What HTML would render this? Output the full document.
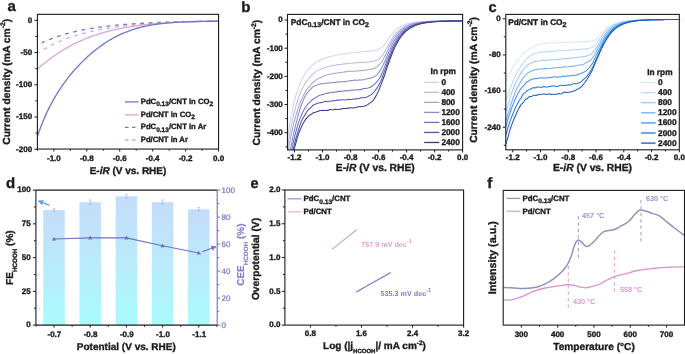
<!DOCTYPE html>
<html><head><meta charset="utf-8"><style>
html,body{margin:0;padding:0;background:#fff;}
svg{display:block;filter:blur(0.3px);text-rendering:geometricPrecision;}
text{stroke:currentColor;stroke-width:0.35px;}
text.an{stroke:none;}
</style></head><body>
<svg width="685" height="354" viewBox="0 0 685 354" font-family='"Liberation Sans", sans-serif'>
<rect width="685" height="354" fill="#fff"/>
<g fill="none" stroke-linecap="butt">
<path d="M38.6,52.66C38.93,52.45 39.93,51.8 40.6,51.38C41.27,50.96 41.93,50.55 42.6,50.15C43.27,49.75 43.93,49.35 44.6,48.97C45.27,48.58 45.93,48.2 46.6,47.83C47.27,47.46 47.93,47.09 48.6,46.74C49.27,46.38 49.93,46.03 50.6,45.69C51.27,45.34 51.93,45.01 52.6,44.68C53.27,44.35 53.93,44.03 54.6,43.71C55.27,43.39 55.93,43.08 56.6,42.78C57.27,42.47 57.93,42.17 58.6,41.88C59.27,41.59 59.93,41.3 60.6,41.02C61.27,40.74 61.93,40.47 62.6,40.2C63.27,39.93 63.93,39.66 64.6,39.4C65.27,39.15 65.93,38.89 66.6,38.64C67.27,38.39 67.93,38.15 68.6,37.91C69.27,37.67 69.93,37.44 70.6,37.21C71.27,36.98 71.93,36.75 72.6,36.53C73.27,36.31 73.93,36.1 74.6,35.89C75.27,35.67 75.93,35.47 76.6,35.26C77.27,35.06 77.93,34.86 78.6,34.67C79.27,34.47 79.93,34.28 80.6,34.09C81.27,33.9 81.93,33.72 82.6,33.54C83.27,33.36 83.93,33.18 84.6,33.01C85.27,32.84 85.93,32.67 86.6,32.5C87.27,32.34 87.93,32.18 88.6,32.02C89.27,31.86 89.93,31.7 90.6,31.55C91.27,31.4 91.93,31.25 92.6,31.1C93.27,30.95 93.93,30.81 94.6,30.67C95.27,30.53 95.93,30.39 96.6,30.25C97.27,30.12 97.93,29.99 98.6,29.86C99.27,29.73 99.93,29.6 100.6,29.47C101.27,29.35 101.93,29.23 102.6,29.11C103.27,28.99 103.93,28.87 104.6,28.76C105.27,28.64 105.93,28.53 106.6,28.42C107.27,28.31 107.93,28.2 108.6,28.1C109.27,27.99 109.93,27.89 110.6,27.79C111.27,27.68 111.93,27.59 112.6,27.49C113.27,27.39 113.93,27.3 114.6,27.2C115.27,27.11 115.93,27.02 116.6,26.93C117.27,26.84 117.93,26.75 118.6,26.66C119.27,26.58 119.93,26.49 120.6,26.41C121.27,26.33 121.93,26.25 122.6,26.17C123.27,26.09 123.93,26.01 124.6,25.94C125.27,25.86 125.93,25.79 126.6,25.72C127.27,25.64 127.93,25.57 128.6,25.5C129.27,25.43 129.93,25.36 130.6,25.3C131.27,25.23 131.93,25.16 132.6,25.1C133.27,25.04 133.93,24.97 134.6,24.91C135.27,24.85 135.93,24.79 136.6,24.73C137.27,24.67 137.93,24.61 138.6,24.56C139.27,24.5 139.93,24.44 140.6,24.39C141.27,24.34 141.93,24.28 142.6,24.23C143.27,24.18 143.93,24.13 144.6,24.08C145.27,24.03 145.93,23.98 146.6,23.93C147.27,23.88 147.93,23.84 148.6,23.79C149.27,23.75 149.93,23.7 150.6,23.66C151.27,23.61 151.93,23.57 152.6,23.53C153.27,23.48 153.93,23.44 154.6,23.4C155.27,23.36 155.93,23.32 156.6,23.28C157.27,23.25 157.93,23.21 158.6,23.17C159.27,23.13 159.93,23.1 160.6,23.06C161.27,23.03 161.93,22.99 162.6,22.96C163.27,22.92 163.93,22.89 164.6,22.86C165.27,22.82 165.93,22.79 166.6,22.76C167.27,22.73 167.93,22.7 168.6,22.67C169.27,22.64 169.93,22.61 170.6,22.58C171.27,22.55 171.93,22.52 172.6,22.5C173.27,22.47 173.93,22.44 174.6,22.41C175.27,22.39 175.93,22.36 176.6,22.34C177.27,22.31 177.93,22.29 178.6,22.26C179.27,22.24 179.93,22.21 180.6,22.19C181.27,22.17 181.93,22.15 182.6,22.12C183.27,22.1 183.93,22.08 184.6,22.06C185.27,22.04 185.93,22.02 186.6,22C187.27,21.97 187.93,21.95 188.6,21.94C189.27,21.92 189.93,21.9 190.6,21.88C191.27,21.86 191.93,21.84 192.6,21.82C193.27,21.8 193.93,21.79 194.6,21.77C195.27,21.75 195.93,21.74 196.6,21.72C197.27,21.7 197.93,21.69 198.6,21.67C199.27,21.66 199.93,21.64 200.6,21.62C201.27,21.61 201.93,21.59 202.6,21.58C203.27,21.57 203.93,21.55 204.6,21.54C205.27,21.52 205.93,21.51 206.6,21.5C207.27,21.48 207.93,21.47 208.6,21.46C209.27,21.45 209.93,21.43 210.6,21.42C211.27,21.41 211.93,21.4 212.6,21.39C213.27,21.37 213.93,21.36 214.6,21.35C215.27,21.34 215.93,21.33 216.6,21.32C217.27,21.31 218.27,21.29 218.6,21.29" stroke="#e0a2d2" stroke-width="1.3" stroke-dasharray="3.6 4.75" stroke-dashoffset="2.3"/>
<path d="M41.8,42.89C42.13,42.74 43.14,42.26 43.81,41.96C44.48,41.65 45.15,41.35 45.82,41.06C46.49,40.77 47.16,40.48 47.83,40.2C48.5,39.92 49.17,39.65 49.84,39.38C50.51,39.11 51.18,38.85 51.85,38.59C52.52,38.34 53.18,38.08 53.85,37.84C54.52,37.59 55.19,37.35 55.86,37.12C56.53,36.88 57.2,36.65 57.87,36.42C58.54,36.2 59.21,35.98 59.88,35.76C60.55,35.55 61.22,35.33 61.89,35.13C62.56,34.92 63.23,34.72 63.9,34.52C64.57,34.32 65.24,34.13 65.91,33.94C66.58,33.75 67.25,33.56 67.92,33.38C68.59,33.2 69.26,33.02 69.93,32.85C70.6,32.67 71.27,32.5 71.94,32.34C72.61,32.17 73.28,32.01 73.95,31.85C74.62,31.69 75.28,31.53 75.95,31.38C76.62,31.22 77.29,31.07 77.96,30.93C78.63,30.78 79.3,30.64 79.97,30.5C80.64,30.36 81.31,30.22 81.98,30.08C82.65,29.95 83.32,29.82 83.99,29.69C84.66,29.56 85.33,29.43 86,29.31C86.67,29.19 87.34,29.07 88.01,28.95C88.68,28.83 89.35,28.71 90.02,28.6C90.69,28.49 91.36,28.38 92.03,28.27C92.7,28.16 93.37,28.05 94.04,27.95C94.71,27.84 95.38,27.74 96.05,27.64C96.72,27.54 97.38,27.45 98.05,27.35C98.72,27.26 99.39,27.16 100.06,27.07C100.73,26.98 101.4,26.89 102.07,26.8C102.74,26.71 103.41,26.63 104.08,26.54C104.75,26.46 105.42,26.38 106.09,26.3C106.76,26.22 107.43,26.14 108.1,26.06C108.77,25.98 109.44,25.91 110.11,25.83C110.78,25.76 111.45,25.69 112.12,25.62C112.79,25.55 113.46,25.48 114.13,25.41C114.8,25.34 115.47,25.28 116.14,25.21C116.81,25.15 117.48,25.08 118.15,25.02C118.82,24.96 119.48,24.9 120.15,24.84C120.82,24.78 121.49,24.72 122.16,24.66C122.83,24.6 123.5,24.55 124.17,24.49C124.84,24.44 125.51,24.39 126.18,24.33C126.85,24.28 127.52,24.23 128.19,24.18C128.86,24.13 129.53,24.08 130.2,24.03C130.87,23.98 131.54,23.94 132.21,23.89C132.88,23.84 133.55,23.8 134.22,23.75C134.89,23.71 135.56,23.67 136.23,23.62C136.9,23.58 137.57,23.54 138.24,23.5C138.91,23.46 139.58,23.42 140.25,23.38C140.92,23.34 141.58,23.3 142.25,23.27C142.92,23.23 143.59,23.19 144.26,23.16C144.93,23.12 145.6,23.08 146.27,23.05C146.94,23.02 147.61,22.98 148.28,22.95C148.95,22.92 149.62,22.88 150.29,22.85C150.96,22.82 151.63,22.79 152.3,22.76C152.97,22.73 153.64,22.7 154.31,22.67C154.98,22.64 155.65,22.61 156.32,22.59C156.99,22.56 157.66,22.53 158.33,22.5C159,22.48 159.67,22.45 160.34,22.43C161.01,22.4 161.68,22.38 162.35,22.35C163.02,22.33 163.68,22.3 164.35,22.28C165.02,22.26 165.69,22.23 166.36,22.21C167.03,22.19 167.7,22.17 168.37,22.14C169.04,22.12 169.71,22.1 170.38,22.08C171.05,22.06 171.72,22.04 172.39,22.02C173.06,22 173.73,21.98 174.4,21.96C175.07,21.94 175.74,21.93 176.41,21.91C177.08,21.89 177.75,21.87 178.42,21.85C179.09,21.84 179.76,21.82 180.43,21.8C181.1,21.79 181.77,21.77 182.44,21.75C183.11,21.74 183.78,21.72 184.45,21.71C185.12,21.69 185.78,21.68 186.45,21.66C187.12,21.65 187.79,21.63 188.46,21.62C189.13,21.6 189.8,21.59 190.47,21.58C191.14,21.56 191.81,21.55 192.48,21.54C193.15,21.52 193.82,21.51 194.49,21.5C195.16,21.49 195.83,21.47 196.5,21.46C197.17,21.45 197.84,21.44 198.51,21.43C199.18,21.41 199.85,21.4 200.52,21.39C201.19,21.38 201.86,21.37 202.53,21.36C203.2,21.35 203.87,21.34 204.54,21.33C205.21,21.32 205.88,21.31 206.55,21.3C207.22,21.29 207.88,21.28 208.55,21.27C209.22,21.26 209.89,21.25 210.56,21.24C211.23,21.24 211.9,21.23 212.57,21.22C213.24,21.21 213.91,21.2 214.58,21.19C215.25,21.18 215.92,21.18 216.59,21.17C217.26,21.16 218.27,21.15 218.6,21.15" stroke="#7579ca" stroke-width="1.3" stroke-dasharray="3.9 4.55" stroke-dashoffset="0.5"/>
<path d="M37.4,69.21C37.74,68.92 38.74,68.02 39.41,67.43C40.08,66.85 40.76,66.27 41.43,65.7C42.1,65.13 42.77,64.57 43.44,64.02C44.11,63.47 44.78,62.92 45.45,62.39C46.12,61.85 46.8,61.32 47.47,60.8C48.14,60.28 48.81,59.77 49.48,59.26C50.15,58.76 50.82,58.26 51.49,57.77C52.16,57.28 52.84,56.8 53.51,56.33C54.18,55.85 54.85,55.39 55.52,54.93C56.19,54.47 56.86,54.02 57.53,53.57C58.2,53.13 58.88,52.69 59.55,52.26C60.22,51.83 60.89,51.4 61.56,50.99C62.23,50.57 62.9,50.16 63.57,49.76C64.24,49.36 64.92,48.96 65.59,48.57C66.26,48.18 66.93,47.8 67.6,47.42C68.27,47.04 68.94,46.67 69.61,46.31C70.28,45.95 70.96,45.59 71.63,45.24C72.3,44.89 72.97,44.54 73.64,44.2C74.31,43.86 74.98,43.53 75.65,43.2C76.32,42.87 77,42.55 77.67,42.24C78.34,41.92 79.01,41.61 79.68,41.31C80.35,41 81.02,40.7 81.69,40.41C82.36,40.12 83.04,39.83 83.71,39.55C84.38,39.26 85.05,38.99 85.72,38.71C86.39,38.44 87.06,38.18 87.73,37.91C88.4,37.65 89.08,37.39 89.75,37.14C90.42,36.89 91.09,36.64 91.76,36.4C92.43,36.16 93.1,35.92 93.77,35.69C94.44,35.45 95.12,35.22 95.79,35C96.46,34.77 97.13,34.56 97.8,34.34C98.47,34.12 99.14,33.91 99.81,33.71C100.48,33.5 101.16,33.3 101.83,33.1C102.5,32.9 103.17,32.7 103.84,32.51C104.51,32.32 105.18,32.14 105.85,31.95C106.52,31.77 107.2,31.59 107.87,31.41C108.54,31.24 109.21,31.07 109.88,30.9C110.55,30.73 111.22,30.57 111.89,30.4C112.56,30.24 113.24,30.08 113.91,29.93C114.58,29.78 115.25,29.62 115.92,29.48C116.59,29.33 117.26,29.18 117.93,29.04C118.6,28.9 119.28,28.76 119.95,28.63C120.62,28.49 121.29,28.36 121.96,28.23C122.63,28.1 123.3,27.97 123.97,27.85C124.64,27.72 125.32,27.6 125.99,27.48C126.66,27.36 127.33,27.25 128,27.14C128.67,27.02 129.34,26.91 130.01,26.8C130.68,26.7 131.36,26.59 132.03,26.49C132.7,26.38 133.37,26.28 134.04,26.18C134.71,26.08 135.38,25.99 136.05,25.89C136.72,25.8 137.4,25.71 138.07,25.62C138.74,25.53 139.41,25.44 140.08,25.36C140.75,25.27 141.42,25.19 142.09,25.1C142.76,25.02 143.44,24.94 144.11,24.87C144.78,24.79 145.45,24.71 146.12,24.64C146.79,24.56 147.46,24.49 148.13,24.42C148.8,24.35 149.48,24.28 150.15,24.22C150.82,24.15 151.49,24.08 152.16,24.02C152.83,23.96 153.5,23.89 154.17,23.83C154.84,23.77 155.52,23.71 156.19,23.66C156.86,23.6 157.53,23.54 158.2,23.49C158.87,23.43 159.54,23.38 160.21,23.33C160.88,23.27 161.56,23.22 162.23,23.17C162.9,23.12 163.57,23.08 164.24,23.03C164.91,22.98 165.58,22.94 166.25,22.89C166.92,22.85 167.6,22.8 168.27,22.76C168.94,22.72 169.61,22.68 170.28,22.64C170.95,22.6 171.62,22.56 172.29,22.52C172.96,22.48 173.64,22.45 174.31,22.41C174.98,22.38 175.65,22.34 176.32,22.31C176.99,22.27 177.66,22.24 178.33,22.21C179,22.17 179.68,22.14 180.35,22.11C181.02,22.08 181.69,22.05 182.36,22.02C183.03,21.99 183.7,21.97 184.37,21.94C185.04,21.91 185.72,21.89 186.39,21.86C187.06,21.83 187.73,21.81 188.4,21.78C189.07,21.76 189.74,21.74 190.41,21.71C191.08,21.69 191.76,21.67 192.43,21.65C193.1,21.62 193.77,21.6 194.44,21.58C195.11,21.56 195.78,21.54 196.45,21.52C197.12,21.5 197.8,21.48 198.47,21.47C199.14,21.45 199.81,21.43 200.48,21.41C201.15,21.39 201.82,21.38 202.49,21.36C203.16,21.35 203.84,21.33 204.51,21.31C205.18,21.3 205.85,21.28 206.52,21.27C207.19,21.25 207.86,21.24 208.53,21.23C209.2,21.21 209.88,21.2 210.55,21.19C211.22,21.17 211.89,21.16 212.56,21.15C213.23,21.14 213.9,21.13 214.57,21.12C215.24,21.1 215.92,21.09 216.59,21.08C217.26,21.07 218.26,21.06 218.6,21.05" stroke="#e0a2d2" stroke-width="1.3"/>
<path d="M37.4,136.47C37.74,135.51 38.74,132.54 39.41,130.68C40.08,128.81 40.76,127.03 41.43,125.3C42.1,123.57 42.77,121.91 43.44,120.29C44.11,118.68 44.78,117.13 45.45,115.62C46.12,114.11 46.8,112.66 47.47,111.24C48.14,109.82 48.81,108.46 49.48,107.13C50.15,105.79 50.82,104.51 51.49,103.25C52.16,101.99 52.84,100.77 53.51,99.58C54.18,98.39 54.85,97.24 55.52,96.11C56.19,94.98 56.86,93.88 57.53,92.81C58.2,91.74 58.88,90.69 59.55,89.67C60.22,88.64 60.89,87.64 61.56,86.67C62.23,85.69 62.9,84.73 63.57,83.79C64.24,82.86 64.92,81.94 65.59,81.04C66.26,80.14 66.93,79.26 67.6,78.4C68.27,77.53 68.94,76.69 69.61,75.86C70.28,75.02 70.96,74.21 71.63,73.41C72.3,72.61 72.97,71.82 73.64,71.05C74.31,70.27 74.98,69.51 75.65,68.77C76.32,68.02 77,67.29 77.67,66.57C78.34,65.84 79.01,65.14 79.68,64.44C80.35,63.74 81.02,63.06 81.69,62.38C82.36,61.71 83.04,61.04 83.71,60.39C84.38,59.74 85.05,59.1 85.72,58.47C86.39,57.84 87.06,57.22 87.73,56.61C88.4,56 89.08,55.4 89.75,54.81C90.42,54.22 91.09,53.64 91.76,53.07C92.43,52.5 93.1,51.94 93.77,51.39C94.44,50.84 95.12,50.3 95.79,49.77C96.46,49.24 97.13,48.72 97.8,48.21C98.47,47.69 99.14,47.19 99.81,46.7C100.48,46.21 101.16,45.73 101.83,45.25C102.5,44.78 103.17,44.31 103.84,43.86C104.51,43.4 105.18,42.96 105.85,42.52C106.52,42.08 107.2,41.66 107.87,41.24C108.54,40.82 109.21,40.41 109.88,40.01C110.55,39.61 111.22,39.22 111.89,38.83C112.56,38.45 113.24,38.08 113.91,37.71C114.58,37.35 115.25,36.99 115.92,36.64C116.59,36.29 117.26,35.95 117.93,35.62C118.6,35.29 119.28,34.97 119.95,34.65C120.62,34.34 121.29,34.03 121.96,33.73C122.63,33.44 123.3,33.15 123.97,32.86C124.64,32.58 125.32,32.3 125.99,32.04C126.66,31.77 127.33,31.51 128,31.26C128.67,31.01 129.34,30.76 130.01,30.52C130.68,30.29 131.36,30.05 132.03,29.83C132.7,29.61 133.37,29.39 134.04,29.18C134.71,28.97 135.38,28.77 136.05,28.57C136.72,28.37 137.4,28.18 138.07,28C138.74,27.81 139.41,27.63 140.08,27.46C140.75,27.29 141.42,27.12 142.09,26.96C142.76,26.8 143.44,26.64 144.11,26.49C144.78,26.34 145.45,26.2 146.12,26.06C146.79,25.91 147.46,25.78 148.13,25.65C148.8,25.52 149.48,25.39 150.15,25.27C150.82,25.15 151.49,25.04 152.16,24.92C152.83,24.81 153.5,24.7 154.17,24.6C154.84,24.49 155.52,24.39 156.19,24.3C156.86,24.2 157.53,24.11 158.2,24.02C158.87,23.93 159.54,23.85 160.21,23.76C160.88,23.68 161.56,23.6 162.23,23.53C162.9,23.45 163.57,23.38 164.24,23.31C164.91,23.24 165.58,23.17 166.25,23.11C166.92,23.04 167.6,22.98 168.27,22.92C168.94,22.86 169.61,22.81 170.28,22.75C170.95,22.7 171.62,22.65 172.29,22.6C172.96,22.55 173.64,22.5 174.31,22.45C174.98,22.41 175.65,22.37 176.32,22.32C176.99,22.28 177.66,22.24 178.33,22.2C179,22.17 179.68,22.13 180.35,22.09C181.02,22.06 181.69,22.03 182.36,21.99C183.03,21.96 183.7,21.93 184.37,21.9C185.04,21.87 185.72,21.85 186.39,21.82C187.06,21.79 187.73,21.77 188.4,21.74C189.07,21.72 189.74,21.7 190.41,21.67C191.08,21.65 191.76,21.63 192.43,21.61C193.1,21.59 193.77,21.57 194.44,21.55C195.11,21.54 195.78,21.52 196.45,21.5C197.12,21.49 197.8,21.47 198.47,21.46C199.14,21.44 199.81,21.43 200.48,21.41C201.15,21.4 201.82,21.39 202.49,21.38C203.16,21.36 203.84,21.35 204.51,21.34C205.18,21.33 205.85,21.32 206.52,21.31C207.19,21.3 207.86,21.3 208.53,21.29C209.2,21.28 209.88,21.27 210.55,21.26C211.22,21.26 211.89,21.25 212.56,21.25C213.23,21.24 213.9,21.23 214.57,21.23C215.24,21.22 215.92,21.22 216.59,21.22C217.26,21.21 218.26,21.21 218.6,21.21" stroke="#7579ca" stroke-width="1.35"/>
</g>
<rect x="37.4" y="14.35" width="181.15" height="134.7" fill="none" stroke="#1b1b1b" stroke-width="1.1"/>
<line x1="37.4" y1="20.4" x2="34.4" y2="20.4" stroke="#1b1b1b" stroke-width="1.0" />
<line x1="37.4" y1="52.6" x2="34.4" y2="52.6" stroke="#1b1b1b" stroke-width="1.0" />
<line x1="37.4" y1="84.8" x2="34.4" y2="84.8" stroke="#1b1b1b" stroke-width="1.0" />
<line x1="37.4" y1="117" x2="34.4" y2="117" stroke="#1b1b1b" stroke-width="1.0" />
<line x1="37.4" y1="149.2" x2="34.4" y2="149.2" stroke="#1b1b1b" stroke-width="1.0" />
<line x1="37.4" y1="36.5" x2="35.4" y2="36.5" stroke="#1b1b1b" stroke-width="1.0" />
<line x1="37.4" y1="68.7" x2="35.4" y2="68.7" stroke="#1b1b1b" stroke-width="1.0" />
<line x1="37.4" y1="100.9" x2="35.4" y2="100.9" stroke="#1b1b1b" stroke-width="1.0" />
<line x1="37.4" y1="133.1" x2="35.4" y2="133.1" stroke="#1b1b1b" stroke-width="1.0" />
<line x1="53.87" y1="149.05" x2="53.87" y2="151.55" stroke="#1b1b1b" stroke-width="1.0" />
<line x1="86.8" y1="149.05" x2="86.8" y2="151.55" stroke="#1b1b1b" stroke-width="1.0" />
<line x1="119.74" y1="149.05" x2="119.74" y2="151.55" stroke="#1b1b1b" stroke-width="1.0" />
<line x1="152.68" y1="149.05" x2="152.68" y2="151.55" stroke="#1b1b1b" stroke-width="1.0" />
<line x1="185.61" y1="149.05" x2="185.61" y2="151.55" stroke="#1b1b1b" stroke-width="1.0" />
<line x1="218.55" y1="149.05" x2="218.55" y2="151.55" stroke="#1b1b1b" stroke-width="1.0" />
<line x1="37.4" y1="149.05" x2="37.4" y2="150.75" stroke="#1b1b1b" stroke-width="1.0" />
<line x1="70.34" y1="149.05" x2="70.34" y2="150.75" stroke="#1b1b1b" stroke-width="1.0" />
<line x1="103.27" y1="149.05" x2="103.27" y2="150.75" stroke="#1b1b1b" stroke-width="1.0" />
<line x1="136.21" y1="149.05" x2="136.21" y2="150.75" stroke="#1b1b1b" stroke-width="1.0" />
<line x1="169.15" y1="149.05" x2="169.15" y2="150.75" stroke="#1b1b1b" stroke-width="1.0" />
<line x1="202.08" y1="149.05" x2="202.08" y2="150.75" stroke="#1b1b1b" stroke-width="1.0" />
<text x="32.1" y="22.7" font-size="8" text-anchor="end" font-weight="bold" fill="#1b1b1b" color="#1b1b1b" >0</text>
<text x="32.1" y="54.9" font-size="8" text-anchor="end" font-weight="bold" fill="#1b1b1b" color="#1b1b1b" >-50</text>
<text x="32.1" y="87.1" font-size="8" text-anchor="end" font-weight="bold" fill="#1b1b1b" color="#1b1b1b" >-100</text>
<text x="32.1" y="119.3" font-size="8" text-anchor="end" font-weight="bold" fill="#1b1b1b" color="#1b1b1b" >-150</text>
<text x="32.1" y="151.5" font-size="8" text-anchor="end" font-weight="bold" fill="#1b1b1b" color="#1b1b1b" >-200</text>
<text x="53.87" y="160.8" font-size="8" text-anchor="middle" font-weight="bold" fill="#1b1b1b" color="#1b1b1b" >-1.0</text>
<text x="86.8" y="160.8" font-size="8" text-anchor="middle" font-weight="bold" fill="#1b1b1b" color="#1b1b1b" >-0.8</text>
<text x="119.74" y="160.8" font-size="8" text-anchor="middle" font-weight="bold" fill="#1b1b1b" color="#1b1b1b" >-0.6</text>
<text x="152.68" y="160.8" font-size="8" text-anchor="middle" font-weight="bold" fill="#1b1b1b" color="#1b1b1b" >-0.4</text>
<text x="185.61" y="160.8" font-size="8" text-anchor="middle" font-weight="bold" fill="#1b1b1b" color="#1b1b1b" >-0.2</text>
<text x="218.55" y="160.8" font-size="8" text-anchor="middle" font-weight="bold" fill="#1b1b1b" color="#1b1b1b" >0.0</text>
<text x="128" y="174.1" font-size="10" text-anchor="middle" font-weight="bold" fill="#1b1b1b" color="#1b1b1b" >E-<tspan font-style="italic">iR</tspan> (V vs. RHE)</text>
<text x="9.9" y="81.8" font-size="10.3" text-anchor="middle" font-weight="bold" fill="#1b1b1b" color="#1b1b1b" transform="rotate(-90 9.9 81.8)" >Current density (mA cm<tspan font-size="6.7" dy="-4.6">-2</tspan><tspan dy="4.6">)</tspan></text>
<text x="7.6" y="11" font-size="15" text-anchor="start" font-weight="bold" fill="#1b1b1b" color="#1b1b1b" >a</text>
<line x1="124.9" y1="101.9" x2="138.5" y2="101.9" stroke="#7579ca" stroke-width="1.3"/>
<text x="140.8" y="103.8" font-size="7.7" text-anchor="start" font-weight="bold" fill="#1b1b1b" color="#1b1b1b" >PdC<tspan font-size="6.54" dy="2.6">0.13</tspan><tspan dy="-2.6">/CNT</tspan> in CO<tspan font-size="6.54" dy="2.6">2</tspan></text>
<line x1="124.9" y1="114.9" x2="138.5" y2="114.9" stroke="#e0a2d2" stroke-width="1.3"/>
<text x="140.8" y="116.8" font-size="7.7" text-anchor="start" font-weight="bold" fill="#1b1b1b" color="#1b1b1b" >Pd/CNT in CO<tspan font-size="6.54" dy="2.6">2</tspan></text>
<line x1="124.9" y1="127.4" x2="138.5" y2="127.4" stroke="#7579ca" stroke-width="1.3" stroke-dasharray="3.6 3.4"/>
<text x="140.8" y="129.3" font-size="7.7" text-anchor="start" font-weight="bold" fill="#1b1b1b" color="#1b1b1b" >PdC<tspan font-size="6.54" dy="2.6">0.13</tspan><tspan dy="-2.6">/CNT</tspan> in Ar</text>
<line x1="124.9" y1="140.0" x2="138.5" y2="140.0" stroke="#e0a2d2" stroke-width="1.3" stroke-dasharray="3.6 3.4"/>
<text x="140.8" y="141.9" font-size="7.7" text-anchor="start" font-weight="bold" fill="#1b1b1b" color="#1b1b1b" >Pd/CNT in Ar</text>
<g fill="none" stroke-width="1.05" stroke-linejoin="round">
<path d="M287.8,136.18 L288.8,129.52 L289.8,123.44 L290.8,117.76 L291.8,112.61 L292.8,107.92 L293.8,103.53 L294.8,99.55 L295.8,95.96 L296.8,92.62 L297.8,89.54 L298.8,86.77 L299.8,84.25 L300.8,81.89 L301.8,79.66 L302.8,77.71 L303.8,76.03 L304.8,74.34 L305.8,72.7 L306.8,71.26 L307.8,69.92 L308.8,68.68 L309.8,67.58 L310.8,66.61 L311.8,65.74 L312.8,64.87 L313.8,64 L314.8,63.22 L315.8,62.53 L316.8,61.91 L317.8,61.32 L318.8,60.73 L319.8,60.2 L320.8,59.73 L321.8,59.29 L322.8,58.88 L323.8,58.52 L324.8,58.18 L325.8,57.83 L326.8,57.51 L327.8,57.14 L328.8,56.81 L329.8,56.58 L330.8,56.35 L331.8,56.13 L332.8,55.95 L333.8,55.74 L334.8,55.47 L335.8,55.22 L336.8,55.06 L337.8,54.93 L338.8,54.7 L339.8,54.44 L340.8,54.27 L341.8,54.19 L342.8,54.1 L343.8,54 L344.8,53.91 L345.8,53.74 L346.8,53.52 L347.8,53.39 L348.8,53.29 L349.8,53.13 L350.8,52.98 L351.8,52.91 L352.8,52.84 L353.8,52.74 L354.8,52.52 L355.8,52.33 L356.8,52.27 L357.8,52.21 L358.8,52.23 L359.8,52.17 L360.8,51.94 L361.8,51.74 L362.8,51.67 L363.8,51.65 L364.8,51.55 L365.8,51.41 L366.8,51.38 L367.8,51.36 L368.8,51.24 L369.8,51.11 L370.8,51.01 L371.8,50.91 L372.8,50.74 L373.8,50.51 L374.8,50.3 L375.8,50.09 L376.8,49.87 L377.8,49.62 L378.8,49.2 L379.8,48.68 L380.8,48.05 L381.8,47.31 L382.8,46.42 L383.8,45.3 L384.8,44.06 L385.8,42.73 L386.8,41.32 L387.8,39.84 L388.8,38.32 L389.8,36.86 L390.8,35.53 L391.8,34.28 L392.8,33.07 L393.8,31.96 L394.8,30.96 L395.8,30.01 L396.8,29.16 L397.8,28.38 L398.8,27.68 L399.8,27.05 L400.8,26.46 L401.8,25.91 L402.8,25.45 L403.8,25.05 L404.8,24.66 L405.8,24.29 L406.8,23.98 L407.8,23.7 L408.8,23.43 L409.8,23.18 L410.8,22.96 L411.8,22.76 L412.8,22.59 L413.8,22.43 L414.8,22.28 L415.8,22.15 L416.8,22.04 L417.8,21.93 L418.8,21.83 L419.8,21.75 L420.8,21.67 L421.8,21.6 L422.8,21.53 L423.8,21.47 L424.8,21.42 L425.8,21.37 L426.8,21.33 L427.8,21.29 L428.8,21.25 L429.8,21.22 L430.8,21.18 L431.8,21.16 L432.8,21.13 L433.8,21.11 L434.8,21.09 L435.8,21.07 L436.8,21.06 L437.8,21.04 L438.8,21.03 L439.8,21.02 L440.8,21.01 L441.8,21 L442.8,20.99 L443.8,20.98 L444.8,20.97 L445.8,20.96 L446.8,20.96 L447.8,20.95 L448.8,20.95 L449.8,20.94 L450.8,20.94 L451.8,20.94 L452.8,20.93 L453.8,20.93 L454.8,20.93 L455.8,20.92 L456.8,20.92 L457.8,20.92 L458.8,20.92 L459.8,20.92 L460.8,20.91 L461.8,20.91" stroke="#d2d3f0"/>
<path d="M287.8,145.71 L288.8,139.24 L289.8,133.3 L290.8,127.98 L291.8,123 L292.8,118.34 L293.8,114.01 L294.8,110.02 L295.8,106.34 L296.8,102.93 L297.8,99.88 L298.8,97.06 L299.8,94.34 L300.8,91.82 L301.8,89.63 L302.8,87.69 L303.8,85.88 L304.8,84.11 L305.8,82.39 L306.8,80.85 L307.8,79.55 L308.8,78.29 L309.8,77.12 L310.8,76.12 L311.8,75.16 L312.8,74.17 L313.8,73.22 L314.8,72.39 L315.8,71.69 L316.8,71.15 L317.8,70.65 L318.8,70.14 L319.8,69.59 L320.8,69.14 L321.8,68.76 L322.8,68.19 L323.8,67.7 L324.8,67.45 L325.8,67.22 L326.8,66.89 L327.8,66.55 L328.8,66.34 L329.8,66.2 L330.8,65.89 L331.8,65.6 L332.8,65.44 L333.8,65.26 L334.8,65.18 L335.8,65.09 L336.8,64.88 L337.8,64.68 L338.8,64.54 L339.8,64.45 L340.8,64.41 L341.8,64.27 L342.8,64.05 L343.8,63.89 L344.8,63.86 L345.8,63.84 L346.8,63.71 L347.8,63.5 L348.8,63.38 L349.8,63.35 L350.8,63.18 L351.8,63.05 L352.8,63.06 L353.8,63.05 L354.8,62.95 L355.8,62.83 L356.8,62.74 L357.8,62.61 L358.8,62.48 L359.8,62.47 L360.8,62.46 L361.8,62.44 L362.8,62.4 L363.8,62.38 L364.8,62.33 L365.8,62.26 L366.8,62.19 L367.8,62.03 L368.8,61.9 L369.8,61.78 L370.8,61.57 L371.8,61.44 L372.8,61.33 L373.8,61.1 L374.8,60.82 L375.8,60.43 L376.8,60.03 L377.8,59.64 L378.8,59.09 L379.8,58.31 L380.8,57.3 L381.8,56.17 L382.8,54.89 L383.8,53.33 L384.8,51.59 L385.8,49.87 L386.8,48.09 L387.8,46.17 L388.8,44.31 L389.8,42.52 L390.8,40.78 L391.8,39.11 L392.8,37.52 L393.8,36.07 L394.8,34.78 L395.8,33.58 L396.8,32.44 L397.8,31.42 L398.8,30.47 L399.8,29.58 L400.8,28.79 L401.8,28.1 L402.8,27.46 L403.8,26.85 L404.8,26.31 L405.8,25.83 L406.8,25.4 L407.8,24.99 L408.8,24.62 L409.8,24.28 L410.8,23.98 L411.8,23.7 L412.8,23.45 L413.8,23.23 L414.8,23.01 L415.8,22.82 L416.8,22.64 L417.8,22.49 L418.8,22.34 L419.8,22.2 L420.8,22.09 L421.8,21.99 L422.8,21.89 L423.8,21.8 L424.8,21.72 L425.8,21.64 L426.8,21.58 L427.8,21.51 L428.8,21.46 L429.8,21.41 L430.8,21.36 L431.8,21.32 L432.8,21.28 L433.8,21.25 L434.8,21.21 L435.8,21.19 L436.8,21.16 L437.8,21.14 L438.8,21.12 L439.8,21.1 L440.8,21.08 L441.8,21.06 L442.8,21.05 L443.8,21.03 L444.8,21.02 L445.8,21.01 L446.8,21 L447.8,20.99 L448.8,20.98 L449.8,20.98 L450.8,20.97 L451.8,20.96 L452.8,20.96 L453.8,20.95 L454.8,20.95 L455.8,20.94 L456.8,20.94 L457.8,20.94 L458.8,20.93 L459.8,20.93 L460.8,20.93 L461.8,20.92" stroke="#bbbde5"/>
<path d="M288.38,149.9 L288.8,147.54 L289.8,142.23 L290.8,136.91 L291.8,131.99 L292.8,127.58 L293.8,123.42 L294.8,119.48 L295.8,115.83 L296.8,112.47 L297.8,109.38 L298.8,106.41 L299.8,103.71 L300.8,101.31 L301.8,99.13 L302.8,97.08 L303.8,94.9 L304.8,92.86 L305.8,91.21 L306.8,89.7 L307.8,88.15 L308.8,86.86 L309.8,85.76 L310.8,84.63 L311.8,83.66 L312.8,82.63 L313.8,81.69 L314.8,81.02 L315.8,80.17 L316.8,79.36 L317.8,78.87 L318.8,78.45 L319.8,77.93 L320.8,77.47 L321.8,77.05 L322.8,76.53 L323.8,76.04 L324.8,75.57 L325.8,75.14 L326.8,75.02 L327.8,74.82 L328.8,74.46 L329.8,74.32 L330.8,74.08 L331.8,73.74 L332.8,73.69 L333.8,73.62 L334.8,73.36 L335.8,73.24 L336.8,73.09 L337.8,72.83 L338.8,72.74 L339.8,72.63 L340.8,72.46 L341.8,72.36 L342.8,72.18 L343.8,71.95 L344.8,71.85 L345.8,71.85 L346.8,71.74 L347.8,71.56 L348.8,71.38 L349.8,71.26 L350.8,71.31 L351.8,71.33 L352.8,71.29 L353.8,71.31 L354.8,71.22 L355.8,70.97 L356.8,70.9 L357.8,70.9 L358.8,70.72 L359.8,70.73 L360.8,70.78 L361.8,70.52 L362.8,70.3 L363.8,70.3 L364.8,70.37 L365.8,70.32 L366.8,70.05 L367.8,69.71 L368.8,69.56 L369.8,69.43 L370.8,69.18 L371.8,69.12 L372.8,68.99 L373.8,68.55 L374.8,68.09 L375.8,67.52 L376.8,66.88 L377.8,66.13 L378.8,65.18 L379.8,64.26 L380.8,63.19 L381.8,61.76 L382.8,60.04 L383.8,58.14 L384.8,56.23 L385.8,54.27 L386.8,52.26 L387.8,50.13 L388.8,48 L389.8,46.01 L390.8,44.03 L391.8,42.1 L392.8,40.35 L393.8,38.75 L394.8,37.24 L395.8,35.82 L396.8,34.56 L397.8,33.39 L398.8,32.31 L399.8,31.32 L400.8,30.4 L401.8,29.57 L402.8,28.81 L403.8,28.1 L404.8,27.45 L405.8,26.88 L406.8,26.37 L407.8,25.88 L408.8,25.44 L409.8,25.04 L410.8,24.67 L411.8,24.35 L412.8,24.04 L413.8,23.76 L414.8,23.51 L415.8,23.27 L416.8,23.06 L417.8,22.87 L418.8,22.7 L419.8,22.54 L420.8,22.4 L421.8,22.26 L422.8,22.14 L423.8,22.03 L424.8,21.93 L425.8,21.84 L426.8,21.76 L427.8,21.68 L428.8,21.61 L429.8,21.54 L430.8,21.49 L431.8,21.44 L432.8,21.39 L433.8,21.35 L434.8,21.31 L435.8,21.27 L436.8,21.24 L437.8,21.21 L438.8,21.18 L439.8,21.16 L440.8,21.13 L441.8,21.11 L442.8,21.09 L443.8,21.08 L444.8,21.06 L445.8,21.05 L446.8,21.03 L447.8,21.02 L448.8,21.01 L449.8,21 L450.8,20.99 L451.8,20.98 L452.8,20.98 L453.8,20.97 L454.8,20.96 L455.8,20.96 L456.8,20.95 L457.8,20.95 L458.8,20.94 L459.8,20.94 L460.8,20.94 L461.8,20.93" stroke="#a1a4d9"/>
<path d="M290.34,149.9 L290.8,147.55 L291.8,142.61 L292.8,137.66 L293.8,132.97 L294.8,128.62 L295.8,124.43 L296.8,120.46 L297.8,116.62 L298.8,112.83 L299.8,109.5 L300.8,106.75 L301.8,104.02 L302.8,101.34 L303.8,99.02 L304.8,96.83 L305.8,94.96 L306.8,93.58 L307.8,92.23 L308.8,91 L309.8,90.09 L310.8,89.06 L311.8,87.88 L312.8,86.89 L313.8,86.25 L314.8,85.89 L315.8,85.55 L316.8,85.2 L317.8,84.81 L318.8,84.4 L319.8,84.05 L320.8,83.87 L321.8,83.85 L322.8,83.7 L323.8,83.49 L324.8,83.29 L325.8,83.21 L326.8,83.16 L327.8,82.92 L328.8,82.89 L329.8,83.01 L330.8,82.83 L331.8,82.62 L332.8,82.45 L333.8,82.36 L334.8,82.45 L335.8,82.38 L336.8,82.03 L337.8,81.76 L338.8,81.89 L339.8,82.02 L340.8,81.86 L341.8,81.77 L342.8,81.78 L343.8,81.68 L344.8,81.61 L345.8,81.61 L346.8,81.39 L347.8,81.09 L348.8,81 L349.8,80.79 L350.8,80.61 L351.8,80.62 L352.8,80.5 L353.8,80.3 L354.8,80.12 L355.8,80.13 L356.8,80.26 L357.8,80.23 L358.8,80.06 L359.8,79.87 L360.8,79.92 L361.8,80.01 L362.8,79.81 L363.8,79.73 L364.8,79.65 L365.8,79.1 L366.8,78.71 L367.8,78.69 L368.8,78.57 L369.8,78.33 L370.8,78.13 L371.8,77.74 L372.8,77.23 L373.8,76.74 L374.8,76.18 L375.8,75.59 L376.8,74.92 L377.8,74.02 L378.8,72.7 L379.8,71.12 L380.8,69.53 L381.8,67.71 L382.8,65.6 L383.8,63.51 L384.8,61.53 L385.8,59.28 L386.8,56.76 L387.8,54.33 L388.8,52.06 L389.8,49.9 L390.8,47.71 L391.8,45.53 L392.8,43.54 L393.8,41.73 L394.8,40.07 L395.8,38.52 L396.8,37.04 L397.8,35.62 L398.8,34.35 L399.8,33.24 L400.8,32.19 L401.8,31.2 L402.8,30.32 L403.8,29.52 L404.8,28.78 L405.8,28.09 L406.8,27.47 L407.8,26.89 L408.8,26.36 L409.8,25.9 L410.8,25.48 L411.8,25.07 L412.8,24.7 L413.8,24.37 L414.8,24.07 L415.8,23.79 L416.8,23.54 L417.8,23.31 L418.8,23.1 L419.8,22.91 L420.8,22.73 L421.8,22.58 L422.8,22.44 L423.8,22.31 L424.8,22.19 L425.8,22.07 L426.8,21.97 L427.8,21.87 L428.8,21.79 L429.8,21.72 L430.8,21.65 L431.8,21.58 L432.8,21.52 L433.8,21.46 L434.8,21.42 L435.8,21.37 L436.8,21.33 L437.8,21.29 L438.8,21.26 L439.8,21.23 L440.8,21.2 L441.8,21.17 L442.8,21.15 L443.8,21.13 L444.8,21.11 L445.8,21.09 L446.8,21.07 L447.8,21.06 L448.8,21.04 L449.8,21.03 L450.8,21.02 L451.8,21.01 L452.8,21 L453.8,20.99 L454.8,20.98 L455.8,20.98 L456.8,20.97 L457.8,20.96 L458.8,20.96 L459.8,20.95 L460.8,20.95 L461.8,20.94" stroke="#888bcd"/>
<path d="M291.9,149.9 L292.8,145.07 L293.8,140.24 L294.8,136.04 L295.8,132.13 L296.8,128.34 L297.8,124.89 L298.8,121.88 L299.8,119.18 L300.8,116.7 L301.8,114.42 L302.8,112.12 L303.8,110.01 L304.8,108.41 L305.8,106.97 L306.8,105.51 L307.8,104.17 L308.8,103.07 L309.8,102.18 L310.8,101.2 L311.8,100.25 L312.8,99.53 L313.8,98.8 L314.8,98.11 L315.8,97.57 L316.8,97.01 L317.8,96.39 L318.8,95.78 L319.8,95.27 L320.8,95.02 L321.8,94.7 L322.8,94.39 L323.8,94.28 L324.8,93.87 L325.8,93.39 L326.8,93.21 L327.8,93.12 L328.8,92.9 L329.8,92.66 L330.8,92.44 L331.8,92.18 L332.8,92.15 L333.8,92.14 L334.8,92.01 L335.8,92.02 L336.8,91.91 L337.8,91.42 L338.8,91.16 L339.8,91.49 L340.8,91.49 L341.8,91.08 L342.8,91.04 L343.8,90.95 L344.8,90.63 L345.8,90.7 L346.8,90.91 L347.8,90.78 L348.8,90.66 L349.8,90.59 L350.8,90.2 L351.8,90.02 L352.8,90.17 L353.8,90.05 L354.8,90 L355.8,90.09 L356.8,89.93 L357.8,89.66 L358.8,89.51 L359.8,89.67 L360.8,89.68 L361.8,89.17 L362.8,88.81 L363.8,88.76 L364.8,88.59 L365.8,88.43 L366.8,88.29 L367.8,88.06 L368.8,87.74 L369.8,87.44 L370.8,86.98 L371.8,86.26 L372.8,85.65 L373.8,84.94 L374.8,83.89 L375.8,82.86 L376.8,81.81 L377.8,80.61 L378.8,79.24 L379.8,77.69 L380.8,75.85 L381.8,73.49 L382.8,71.18 L383.8,68.92 L384.8,66.39 L385.8,63.67 L386.8,60.79 L387.8,58.3 L388.8,56.06 L389.8,53.63 L390.8,51.12 L391.8,48.74 L392.8,46.62 L393.8,44.66 L394.8,42.78 L395.8,40.98 L396.8,39.31 L397.8,37.84 L398.8,36.52 L399.8,35.24 L400.8,33.99 L401.8,32.83 L402.8,31.77 L403.8,30.81 L404.8,29.97 L405.8,29.27 L406.8,28.6 L407.8,27.9 L408.8,27.27 L409.8,26.74 L410.8,26.26 L411.8,25.81 L412.8,25.41 L413.8,25.04 L414.8,24.67 L415.8,24.34 L416.8,24.04 L417.8,23.77 L418.8,23.53 L419.8,23.3 L420.8,23.1 L421.8,22.92 L422.8,22.74 L423.8,22.58 L424.8,22.44 L425.8,22.3 L426.8,22.18 L427.8,22.08 L428.8,21.98 L429.8,21.89 L430.8,21.8 L431.8,21.73 L432.8,21.66 L433.8,21.59 L434.8,21.53 L435.8,21.47 L436.8,21.43 L437.8,21.38 L438.8,21.34 L439.8,21.3 L440.8,21.27 L441.8,21.24 L442.8,21.21 L443.8,21.18 L444.8,21.16 L445.8,21.14 L446.8,21.12 L447.8,21.1 L448.8,21.08 L449.8,21.07 L450.8,21.05 L451.8,21.04 L452.8,21.03 L453.8,21.02 L454.8,21.01 L455.8,21 L456.8,20.99 L457.8,20.98 L458.8,20.97 L459.8,20.97 L460.8,20.96 L461.8,20.96" stroke="#6e71bf"/>
<path d="M293.16,149.9 L293.8,146.99 L294.8,142.5 L295.8,138.64 L296.8,135.3 L297.8,132.05 L298.8,128.82 L299.8,125.6 L300.8,122.92 L301.8,120.63 L302.8,118.4 L303.8,116.67 L304.8,115.13 L305.8,113.31 L306.8,111.57 L307.8,110.31 L308.8,109.38 L309.8,108.52 L310.8,107.59 L311.8,106.52 L312.8,105.48 L313.8,104.78 L314.8,104.37 L315.8,104 L316.8,103.6 L317.8,103.26 L318.8,103.01 L319.8,102.79 L320.8,102.62 L321.8,102.48 L322.8,102.21 L323.8,101.78 L324.8,101.44 L325.8,101.37 L326.8,101.5 L327.8,101.66 L328.8,101.58 L329.8,101.28 L330.8,101.1 L331.8,101.06 L332.8,100.8 L333.8,100.61 L334.8,100.65 L335.8,100.4 L336.8,100.11 L337.8,100.12 L338.8,100.11 L339.8,100.05 L340.8,99.95 L341.8,99.85 L342.8,99.8 L343.8,99.85 L344.8,99.92 L345.8,99.82 L346.8,99.75 L347.8,99.61 L348.8,99.31 L349.8,99.39 L350.8,99.59 L351.8,99.53 L352.8,99.28 L353.8,99.04 L354.8,98.96 L355.8,98.88 L356.8,98.86 L357.8,98.81 L358.8,98.55 L359.8,98.2 L360.8,97.83 L361.8,97.61 L362.8,97.73 L363.8,97.77 L364.8,97.56 L365.8,97.34 L366.8,96.94 L367.8,96.46 L368.8,95.94 L369.8,95.4 L370.8,94.9 L371.8,94.22 L372.8,93.3 L373.8,92.22 L374.8,90.95 L375.8,89.63 L376.8,88.35 L377.8,86.73 L378.8,84.71 L379.8,83.07 L380.8,81.26 L381.8,78.58 L382.8,75.78 L383.8,73.14 L384.8,70.38 L385.8,67.59 L386.8,64.74 L387.8,61.96 L388.8,59.35 L389.8,56.75 L390.8,54.18 L391.8,51.74 L392.8,49.41 L393.8,47.29 L394.8,45.33 L395.8,43.38 L396.8,41.51 L397.8,39.75 L398.8,38.14 L399.8,36.77 L400.8,35.52 L401.8,34.3 L402.8,33.16 L403.8,32.12 L404.8,31.18 L405.8,30.35 L406.8,29.59 L407.8,28.88 L408.8,28.2 L409.8,27.58 L410.8,27.02 L411.8,26.51 L412.8,26.04 L413.8,25.61 L414.8,25.21 L415.8,24.85 L416.8,24.52 L417.8,24.23 L418.8,23.94 L419.8,23.67 L420.8,23.44 L421.8,23.23 L422.8,23.03 L423.8,22.84 L424.8,22.67 L425.8,22.53 L426.8,22.4 L427.8,22.27 L428.8,22.16 L429.8,22.06 L430.8,21.96 L431.8,21.87 L432.8,21.78 L433.8,21.71 L434.8,21.64 L435.8,21.58 L436.8,21.53 L437.8,21.47 L438.8,21.42 L439.8,21.38 L440.8,21.34 L441.8,21.3 L442.8,21.27 L443.8,21.24 L444.8,21.21 L445.8,21.18 L446.8,21.16 L447.8,21.14 L448.8,21.12 L449.8,21.1 L450.8,21.08 L451.8,21.07 L452.8,21.05 L453.8,21.04 L454.8,21.03 L455.8,21.02 L456.8,21.01 L457.8,21 L458.8,20.99 L459.8,20.98 L460.8,20.98 L461.8,20.97" stroke="#5356a8"/>
<path d="M293.99,149.9 L294.8,146.8 L295.8,143.32 L296.8,139.56 L297.8,136.03 L298.8,133.16 L299.8,130.74 L300.8,128.33 L301.8,125.96 L302.8,124.04 L303.8,122.33 L304.8,120.6 L305.8,119.13 L306.8,117.92 L307.8,116.93 L308.8,115.91 L309.8,114.89 L310.8,114.42 L311.8,114.1 L312.8,113.18 L313.8,112.48 L314.8,112.4 L315.8,112.07 L316.8,111.69 L317.8,111.43 L318.8,110.95 L319.8,110.52 L320.8,110.44 L321.8,110.49 L322.8,110.36 L323.8,110.41 L324.8,110.59 L325.8,110.41 L326.8,110.38 L327.8,110.41 L328.8,109.94 L329.8,109.54 L330.8,109.47 L331.8,109.69 L332.8,109.95 L333.8,109.76 L334.8,109.29 L335.8,109.14 L336.8,109.45 L337.8,109.5 L338.8,109.26 L339.8,109.28 L340.8,109.14 L341.8,108.83 L342.8,108.62 L343.8,108.45 L344.8,108.58 L345.8,108.62 L346.8,108.25 L347.8,108.14 L348.8,108.14 L349.8,107.93 L350.8,107.77 L351.8,107.78 L352.8,108.04 L353.8,107.95 L354.8,107.71 L355.8,107.72 L356.8,107.27 L357.8,106.67 L358.8,106.7 L359.8,106.73 L360.8,106.41 L361.8,106.42 L362.8,106.57 L363.8,106.35 L364.8,105.97 L365.8,105.61 L366.8,105.13 L367.8,104.53 L368.8,103.81 L369.8,103.13 L370.8,102.4 L371.8,101.73 L372.8,100.91 L373.8,99.45 L374.8,97.86 L375.8,96.34 L376.8,94.39 L377.8,92.26 L378.8,90.24 L379.8,87.75 L380.8,85.15 L381.8,82.69 L382.8,79.98 L383.8,77.28 L384.8,74.47 L385.8,71.32 L386.8,68.2 L387.8,65.44 L388.8,62.71 L389.8,59.87 L390.8,57.2 L391.8,54.53 L392.8,51.92 L393.8,49.57 L394.8,47.37 L395.8,45.38 L396.8,43.5 L397.8,41.64 L398.8,39.93 L399.8,38.43 L400.8,37.06 L401.8,35.77 L402.8,34.57 L403.8,33.45 L404.8,32.39 L405.8,31.42 L406.8,30.6 L407.8,29.83 L408.8,29.06 L409.8,28.35 L410.8,27.75 L411.8,27.22 L412.8,26.7 L413.8,26.22 L414.8,25.78 L415.8,25.37 L416.8,25.01 L417.8,24.69 L418.8,24.37 L419.8,24.07 L420.8,23.8 L421.8,23.57 L422.8,23.35 L423.8,23.14 L424.8,22.95 L425.8,22.78 L426.8,22.63 L427.8,22.48 L428.8,22.35 L429.8,22.23 L430.8,22.12 L431.8,22.02 L432.8,21.92 L433.8,21.84 L434.8,21.77 L435.8,21.7 L436.8,21.63 L437.8,21.57 L438.8,21.51 L439.8,21.46 L440.8,21.41 L441.8,21.37 L442.8,21.33 L443.8,21.3 L444.8,21.26 L445.8,21.23 L446.8,21.21 L447.8,21.18 L448.8,21.16 L449.8,21.14 L450.8,21.12 L451.8,21.1 L452.8,21.08 L453.8,21.07 L454.8,21.05 L455.8,21.04 L456.8,21.03 L457.8,21.02 L458.8,21.01 L459.8,21 L460.8,20.99 L461.8,20.98" stroke="#393c8c"/>
</g>
<rect x="287.5" y="14.4" width="175.1" height="135.5" fill="none" stroke="#1b1b1b" stroke-width="1.1"/>
<line x1="287.5" y1="20.03" x2="284.5" y2="20.03" stroke="#1b1b1b" stroke-width="1.0" />
<line x1="287.5" y1="48.2" x2="284.5" y2="48.2" stroke="#1b1b1b" stroke-width="1.0" />
<line x1="287.5" y1="76.37" x2="284.5" y2="76.37" stroke="#1b1b1b" stroke-width="1.0" />
<line x1="287.5" y1="104.54" x2="284.5" y2="104.54" stroke="#1b1b1b" stroke-width="1.0" />
<line x1="287.5" y1="132.71" x2="284.5" y2="132.71" stroke="#1b1b1b" stroke-width="1.0" />
<line x1="287.5" y1="34.12" x2="285.5" y2="34.12" stroke="#1b1b1b" stroke-width="1.0" />
<line x1="287.5" y1="62.29" x2="285.5" y2="62.29" stroke="#1b1b1b" stroke-width="1.0" />
<line x1="287.5" y1="90.45" x2="285.5" y2="90.45" stroke="#1b1b1b" stroke-width="1.0" />
<line x1="287.5" y1="118.62" x2="285.5" y2="118.62" stroke="#1b1b1b" stroke-width="1.0" />
<line x1="287.5" y1="146.8" x2="285.5" y2="146.8" stroke="#1b1b1b" stroke-width="1.0" />
<line x1="294.5" y1="149.9" x2="294.5" y2="152.4" stroke="#1b1b1b" stroke-width="1.0" />
<line x1="322.52" y1="149.9" x2="322.52" y2="152.4" stroke="#1b1b1b" stroke-width="1.0" />
<line x1="350.55" y1="149.9" x2="350.55" y2="152.4" stroke="#1b1b1b" stroke-width="1.0" />
<line x1="378.56" y1="149.9" x2="378.56" y2="152.4" stroke="#1b1b1b" stroke-width="1.0" />
<line x1="406.58" y1="149.9" x2="406.58" y2="152.4" stroke="#1b1b1b" stroke-width="1.0" />
<line x1="434.61" y1="149.9" x2="434.61" y2="152.4" stroke="#1b1b1b" stroke-width="1.0" />
<line x1="462.62" y1="149.9" x2="462.62" y2="152.4" stroke="#1b1b1b" stroke-width="1.0" />
<line x1="308.51" y1="149.9" x2="308.51" y2="151.6" stroke="#1b1b1b" stroke-width="1.0" />
<line x1="336.53" y1="149.9" x2="336.53" y2="151.6" stroke="#1b1b1b" stroke-width="1.0" />
<line x1="364.56" y1="149.9" x2="364.56" y2="151.6" stroke="#1b1b1b" stroke-width="1.0" />
<line x1="392.57" y1="149.9" x2="392.57" y2="151.6" stroke="#1b1b1b" stroke-width="1.0" />
<line x1="420.6" y1="149.9" x2="420.6" y2="151.6" stroke="#1b1b1b" stroke-width="1.0" />
<line x1="448.62" y1="149.9" x2="448.62" y2="151.6" stroke="#1b1b1b" stroke-width="1.0" />
<text x="282.8" y="22.33" font-size="8" text-anchor="end" font-weight="bold" fill="#1b1b1b" color="#1b1b1b" >0</text>
<text x="282.8" y="50.5" font-size="8" text-anchor="end" font-weight="bold" fill="#1b1b1b" color="#1b1b1b" >-100</text>
<text x="282.8" y="78.67" font-size="8" text-anchor="end" font-weight="bold" fill="#1b1b1b" color="#1b1b1b" >-200</text>
<text x="282.8" y="106.84" font-size="8" text-anchor="end" font-weight="bold" fill="#1b1b1b" color="#1b1b1b" >-300</text>
<text x="282.8" y="135.01" font-size="8" text-anchor="end" font-weight="bold" fill="#1b1b1b" color="#1b1b1b" >-400</text>
<text x="294.5" y="160.1" font-size="8" text-anchor="middle" font-weight="bold" fill="#1b1b1b" color="#1b1b1b" >-1.2</text>
<text x="322.52" y="160.1" font-size="8" text-anchor="middle" font-weight="bold" fill="#1b1b1b" color="#1b1b1b" >-1.0</text>
<text x="350.55" y="160.1" font-size="8" text-anchor="middle" font-weight="bold" fill="#1b1b1b" color="#1b1b1b" >-0.8</text>
<text x="378.56" y="160.1" font-size="8" text-anchor="middle" font-weight="bold" fill="#1b1b1b" color="#1b1b1b" >-0.6</text>
<text x="406.58" y="160.1" font-size="8" text-anchor="middle" font-weight="bold" fill="#1b1b1b" color="#1b1b1b" >-0.4</text>
<text x="434.61" y="160.1" font-size="8" text-anchor="middle" font-weight="bold" fill="#1b1b1b" color="#1b1b1b" >-0.2</text>
<text x="462.62" y="160.1" font-size="8" text-anchor="middle" font-weight="bold" fill="#1b1b1b" color="#1b1b1b" >0.0</text>
<text x="375.3" y="171.1" font-size="10.3" text-anchor="middle" font-weight="bold" fill="#1b1b1b" color="#1b1b1b" >E-<tspan font-style="italic">iR</tspan> (V vs. RHE)</text>
<text x="260.1" y="82.6" font-size="10.3" text-anchor="middle" font-weight="bold" fill="#1b1b1b" color="#1b1b1b" transform="rotate(-90 260.1 82.6)" >Current density (mA cm<tspan font-size="6.7" dy="-4.6">-2</tspan><tspan dy="4.6">)</tspan></text>
<text x="241.3" y="11.8" font-size="15" text-anchor="start" font-weight="bold" fill="#1b1b1b" color="#1b1b1b" >b</text>
<text x="290.8" y="24.5" font-size="8.3" text-anchor="start" font-weight="bold" fill="#1b1b1b" color="#1b1b1b" >PdC<tspan font-size="7.06" dy="2.6">0.13</tspan><tspan dy="-2.6">/CNT</tspan> in CO<tspan font-size="7.06" dy="2.6">2</tspan></text>
<text x="430.6" y="73.8" font-size="8.3" text-anchor="start" font-weight="bold" fill="#1b1b1b" color="#1b1b1b" >In rpm</text>
<line x1="424.1" y1="82.3" x2="439.3" y2="82.3" stroke="#d2d3f0" stroke-width="1.3"/>
<text x="441.4" y="84.6" font-size="8.3" text-anchor="start" font-weight="bold" fill="#1b1b1b" color="#1b1b1b" >0</text>
<line x1="424.1" y1="92.33" x2="439.3" y2="92.33" stroke="#bbbde5" stroke-width="1.3"/>
<text x="441.4" y="94.63" font-size="8.3" text-anchor="start" font-weight="bold" fill="#1b1b1b" color="#1b1b1b" >400</text>
<line x1="424.1" y1="102.36" x2="439.3" y2="102.36" stroke="#a1a4d9" stroke-width="1.3"/>
<text x="441.4" y="104.66" font-size="8.3" text-anchor="start" font-weight="bold" fill="#1b1b1b" color="#1b1b1b" >800</text>
<line x1="424.1" y1="112.39" x2="439.3" y2="112.39" stroke="#888bcd" stroke-width="1.3"/>
<text x="441.4" y="114.69" font-size="8.3" text-anchor="start" font-weight="bold" fill="#1b1b1b" color="#1b1b1b" >1200</text>
<line x1="424.1" y1="122.42" x2="439.3" y2="122.42" stroke="#6e71bf" stroke-width="1.3"/>
<text x="441.4" y="124.72" font-size="8.3" text-anchor="start" font-weight="bold" fill="#1b1b1b" color="#1b1b1b" >1600</text>
<line x1="424.1" y1="132.45" x2="439.3" y2="132.45" stroke="#5356a8" stroke-width="1.3"/>
<text x="441.4" y="134.75" font-size="8.3" text-anchor="start" font-weight="bold" fill="#1b1b1b" color="#1b1b1b" >2000</text>
<line x1="424.1" y1="142.48" x2="439.3" y2="142.48" stroke="#393c8c" stroke-width="1.3"/>
<text x="441.4" y="144.78" font-size="8.3" text-anchor="start" font-weight="bold" fill="#1b1b1b" color="#1b1b1b" >2400</text>
<g fill="none" stroke-width="1.05" stroke-linejoin="round">
<path d="M506.1,80.56 L507.1,78.42 L508.1,76.38 L509.1,74.43 L510.1,72.52 L511.1,70.73 L512.1,68.97 L513.1,67.28 L514.1,65.77 L515.1,64.25 L516.1,62.72 L517.1,61.32 L518.1,60 L519.1,58.7 L520.1,57.43 L521.1,56.26 L522.1,55.22 L523.1,54.22 L524.1,53.18 L525.1,52.24 L526.1,51.45 L527.1,50.62 L528.1,49.85 L529.1,49.19 L530.1,48.44 L531.1,47.72 L532.1,47.11 L533.1,46.6 L534.1,46.21 L535.1,45.77 L536.1,45.37 L537.1,45.02 L538.1,44.67 L539.1,44.36 L540.1,44.07 L541.1,43.85 L542.1,43.74 L543.1,43.72 L544.1,43.62 L545.1,43.45 L546.1,43.34 L547.1,43.28 L548.1,43.2 L549.1,43.09 L550.1,42.96 L551.1,42.94 L552.1,43.06 L553.1,43.12 L554.1,43.01 L555.1,42.93 L556.1,42.96 L557.1,42.89 L558.1,42.8 L559.1,42.75 L560.1,42.69 L561.1,42.6 L562.1,42.54 L563.1,42.56 L564.1,42.57 L565.1,42.54 L566.1,42.41 L567.1,42.29 L568.1,42.35 L569.1,42.4 L570.1,42.28 L571.1,42.15 L572.1,42.08 L573.1,42.06 L574.1,42.04 L575.1,42.04 L576.1,42.07 L577.1,42.01 L578.1,41.98 L579.1,42.02 L580.1,41.97 L581.1,41.86 L582.1,41.81 L583.1,41.78 L584.1,41.65 L585.1,41.57 L586.1,41.61 L587.1,41.63 L588.1,41.52 L589.1,41.39 L590.1,41.31 L591.1,41.21 L592.1,41.1 L593.1,40.96 L594.1,40.62 L595.1,40.04 L596.1,39.27 L597.1,38.3 L598.1,37.14 L599.1,35.89 L600.1,34.65 L601.1,33.49 L602.1,32.4 L603.1,31.3 L604.1,30.26 L605.1,29.32 L606.1,28.49 L607.1,27.75 L608.1,27.04 L609.1,26.38 L610.1,25.8 L611.1,25.28 L612.1,24.79 L613.1,24.35 L614.1,23.93 L615.1,23.54 L616.1,23.19 L617.1,22.88 L618.1,22.6 L619.1,22.33 L620.1,22.08 L621.1,21.86 L622.1,21.66 L623.1,21.47 L624.1,21.31 L625.1,21.16 L626.1,21.01 L627.1,20.88 L628.1,20.77 L629.1,20.66 L630.1,20.56 L631.1,20.47 L632.1,20.39 L633.1,20.31 L634.1,20.24 L635.1,20.18 L636.1,20.12 L637.1,20.06 L638.1,20.02 L639.1,19.97 L640.1,19.93 L641.1,19.89 L642.1,19.86 L643.1,19.83 L644.1,19.8 L645.1,19.78 L646.1,19.75 L647.1,19.73 L648.1,19.71 L649.1,19.69 L650.1,19.68 L651.1,19.66 L652.1,19.65 L653.1,19.64 L654.1,19.62 L655.1,19.61 L656.1,19.6 L657.1,19.59 L658.1,19.59 L659.1,19.58 L660.1,19.57 L661.1,19.57 L662.1,19.56 L663.1,19.56 L664.1,19.55 L665.1,19.55 L666.1,19.54 L667.1,19.54 L668.1,19.54 L669.1,19.53 L670.1,19.53 L671.1,19.53 L672.1,19.52 L673.1,19.52 L674.1,19.52 L675.1,19.52 L676.1,19.52 L677.1,19.52 L678.1,19.51 L679.1,19.51" stroke="#d5e9fb"/>
<path d="M506.1,100.48 L507.1,97.4 L508.1,94.48 L509.1,91.52 L510.1,88.66 L511.1,86.04 L512.1,83.54 L513.1,81.14 L514.1,78.91 L515.1,76.75 L516.1,74.55 L517.1,72.4 L518.1,70.59 L519.1,69 L520.1,67.42 L521.1,65.91 L522.1,64.41 L523.1,63.02 L524.1,61.8 L525.1,60.51 L526.1,59.43 L527.1,58.57 L528.1,57.61 L529.1,56.85 L530.1,56.21 L531.1,55.42 L532.1,54.75 L533.1,54.28 L534.1,53.73 L535.1,53.29 L536.1,53.08 L537.1,52.91 L538.1,52.71 L539.1,52.5 L540.1,52.28 L541.1,52.1 L542.1,51.98 L543.1,51.97 L544.1,51.97 L545.1,51.89 L546.1,51.8 L547.1,51.68 L548.1,51.59 L549.1,51.56 L550.1,51.52 L551.1,51.49 L552.1,51.48 L553.1,51.44 L554.1,51.27 L555.1,51.08 L556.1,50.99 L557.1,51 L558.1,50.96 L559.1,50.83 L560.1,50.79 L561.1,50.77 L562.1,50.65 L563.1,50.57 L564.1,50.57 L565.1,50.5 L566.1,50.45 L567.1,50.45 L568.1,50.34 L569.1,50.14 L570.1,50.03 L571.1,50 L572.1,49.85 L573.1,49.75 L574.1,49.81 L575.1,49.8 L576.1,49.65 L577.1,49.55 L578.1,49.53 L579.1,49.42 L580.1,49.25 L581.1,49.14 L582.1,49.1 L583.1,49.07 L584.1,49 L585.1,48.94 L586.1,48.86 L587.1,48.72 L588.1,48.46 L589.1,48.19 L590.1,48.01 L591.1,47.78 L592.1,47.37 L593.1,46.66 L594.1,45.76 L595.1,44.91 L596.1,43.88 L597.1,42.51 L598.1,41.06 L599.1,39.61 L600.1,38.15 L601.1,36.72 L602.1,35.37 L603.1,34.08 L604.1,32.82 L605.1,31.65 L606.1,30.64 L607.1,29.68 L608.1,28.76 L609.1,27.92 L610.1,27.18 L611.1,26.54 L612.1,25.92 L613.1,25.32 L614.1,24.82 L615.1,24.38 L616.1,23.97 L617.1,23.58 L618.1,23.22 L619.1,22.88 L620.1,22.58 L621.1,22.33 L622.1,22.09 L623.1,21.86 L624.1,21.65 L625.1,21.46 L626.1,21.29 L627.1,21.14 L628.1,21 L629.1,20.87 L630.1,20.74 L631.1,20.63 L632.1,20.53 L633.1,20.44 L634.1,20.35 L635.1,20.28 L636.1,20.22 L637.1,20.15 L638.1,20.1 L639.1,20.04 L640.1,19.99 L641.1,19.95 L642.1,19.91 L643.1,19.88 L644.1,19.84 L645.1,19.81 L646.1,19.78 L647.1,19.76 L648.1,19.74 L649.1,19.72 L650.1,19.7 L651.1,19.68 L652.1,19.67 L653.1,19.65 L654.1,19.64 L655.1,19.62 L656.1,19.61 L657.1,19.6 L658.1,19.59 L659.1,19.59 L660.1,19.58 L661.1,19.57 L662.1,19.57 L663.1,19.56 L664.1,19.55 L665.1,19.55 L666.1,19.55 L667.1,19.54 L668.1,19.54 L669.1,19.53 L670.1,19.53 L671.1,19.53 L672.1,19.53 L673.1,19.52 L674.1,19.52 L675.1,19.52 L676.1,19.52 L677.1,19.52 L678.1,19.52 L679.1,19.51" stroke="#b9daf7"/>
<path d="M506.1,111.21 L507.1,107.65 L508.1,104.44 L509.1,101.17 L510.1,97.67 L511.1,94.48 L512.1,91.81 L513.1,89.16 L514.1,86.52 L515.1,84.27 L516.1,82.1 L517.1,79.99 L518.1,78.17 L519.1,76.37 L520.1,74.55 L521.1,72.9 L522.1,71.37 L523.1,70 L524.1,68.87 L525.1,67.77 L526.1,66.56 L527.1,65.54 L528.1,64.81 L529.1,64.09 L530.1,63.6 L531.1,63.22 L532.1,62.57 L533.1,61.92 L534.1,61.63 L535.1,61.57 L536.1,61.4 L537.1,61.25 L538.1,61.15 L539.1,60.95 L540.1,60.74 L541.1,60.45 L542.1,60.18 L543.1,60.23 L544.1,60.38 L545.1,60.4 L546.1,60.34 L547.1,60.24 L548.1,60.19 L549.1,60.1 L550.1,59.89 L551.1,59.71 L552.1,59.65 L553.1,59.72 L554.1,59.7 L555.1,59.67 L556.1,59.7 L557.1,59.55 L558.1,59.36 L559.1,59.18 L560.1,59 L561.1,58.98 L562.1,58.87 L563.1,58.73 L564.1,58.76 L565.1,58.69 L566.1,58.58 L567.1,58.53 L568.1,58.55 L569.1,58.46 L570.1,58.11 L571.1,57.9 L572.1,57.98 L573.1,58.01 L574.1,57.83 L575.1,57.7 L576.1,57.54 L577.1,57.25 L578.1,57.17 L579.1,57.19 L580.1,57.16 L581.1,57 L582.1,56.81 L583.1,56.66 L584.1,56.48 L585.1,56.34 L586.1,56.12 L587.1,55.8 L588.1,55.5 L589.1,55.15 L590.1,54.61 L591.1,53.94 L592.1,53.07 L593.1,52.02 L594.1,50.93 L595.1,49.65 L596.1,48.14 L597.1,46.51 L598.1,44.88 L599.1,43.33 L600.1,41.67 L601.1,39.91 L602.1,38.29 L603.1,36.8 L604.1,35.4 L605.1,34.09 L606.1,32.79 L607.1,31.56 L608.1,30.52 L609.1,29.6 L610.1,28.73 L611.1,27.92 L612.1,27.19 L613.1,26.56 L614.1,25.93 L615.1,25.31 L616.1,24.81 L617.1,24.37 L618.1,23.94 L619.1,23.53 L620.1,23.17 L621.1,22.85 L622.1,22.58 L623.1,22.31 L624.1,22.05 L625.1,21.82 L626.1,21.62 L627.1,21.43 L628.1,21.27 L629.1,21.11 L630.1,20.96 L631.1,20.83 L632.1,20.72 L633.1,20.61 L634.1,20.52 L635.1,20.42 L636.1,20.34 L637.1,20.27 L638.1,20.2 L639.1,20.14 L640.1,20.08 L641.1,20.03 L642.1,19.98 L643.1,19.94 L644.1,19.9 L645.1,19.87 L646.1,19.83 L647.1,19.8 L648.1,19.78 L649.1,19.75 L650.1,19.73 L651.1,19.71 L652.1,19.69 L653.1,19.68 L654.1,19.66 L655.1,19.65 L656.1,19.63 L657.1,19.62 L658.1,19.61 L659.1,19.6 L660.1,19.59 L661.1,19.58 L662.1,19.58 L663.1,19.57 L664.1,19.56 L665.1,19.56 L666.1,19.55 L667.1,19.55 L668.1,19.54 L669.1,19.54 L670.1,19.54 L671.1,19.53 L672.1,19.53 L673.1,19.53 L674.1,19.52 L675.1,19.52 L676.1,19.52 L677.1,19.52 L678.1,19.52 L679.1,19.52" stroke="#9ccaf3"/>
<path d="M506.1,120.66 L507.1,116.91 L508.1,113.54 L509.1,110.35 L510.1,107.02 L511.1,103.71 L512.1,100.75 L513.1,98.04 L514.1,95.44 L515.1,92.87 L516.1,90.34 L517.1,88.14 L518.1,86.18 L519.1,84.38 L520.1,82.78 L521.1,81.07 L522.1,79.37 L523.1,78.01 L524.1,76.8 L525.1,75.77 L526.1,74.75 L527.1,73.54 L528.1,72.65 L529.1,72.17 L530.1,71.65 L531.1,71.15 L532.1,70.71 L533.1,70.34 L534.1,70 L535.1,69.66 L536.1,69.42 L537.1,69.2 L538.1,69.12 L539.1,69.25 L540.1,69.09 L541.1,68.71 L542.1,68.65 L543.1,68.87 L544.1,68.87 L545.1,68.62 L546.1,68.39 L547.1,68.44 L548.1,68.67 L549.1,68.59 L550.1,68.4 L551.1,68.33 L552.1,68.24 L553.1,68.05 L554.1,67.88 L555.1,67.83 L556.1,67.81 L557.1,67.7 L558.1,67.42 L559.1,67.3 L560.1,67.43 L561.1,67.43 L562.1,67.16 L563.1,66.91 L564.1,66.82 L565.1,66.88 L566.1,67.03 L567.1,66.99 L568.1,66.8 L569.1,66.54 L570.1,66.37 L571.1,66.49 L572.1,66.5 L573.1,66.23 L574.1,66.04 L575.1,65.93 L576.1,65.76 L577.1,65.58 L578.1,65.29 L579.1,65.09 L580.1,65.09 L581.1,65.07 L582.1,64.88 L583.1,64.43 L584.1,63.92 L585.1,63.35 L586.1,62.73 L587.1,62.3 L588.1,61.86 L589.1,61.18 L590.1,60.5 L591.1,59.53 L592.1,58.26 L593.1,56.96 L594.1,55.46 L595.1,53.78 L596.1,52.01 L597.1,50.15 L598.1,48.24 L599.1,46.37 L600.1,44.5 L601.1,42.7 L602.1,40.99 L603.1,39.3 L604.1,37.71 L605.1,36.26 L606.1,34.84 L607.1,33.49 L608.1,32.34 L609.1,31.25 L610.1,30.21 L611.1,29.27 L612.1,28.42 L613.1,27.67 L614.1,26.95 L615.1,26.3 L616.1,25.72 L617.1,25.16 L618.1,24.65 L619.1,24.18 L620.1,23.76 L621.1,23.38 L622.1,23.06 L623.1,22.76 L624.1,22.47 L625.1,22.2 L626.1,21.95 L627.1,21.73 L628.1,21.54 L629.1,21.37 L630.1,21.2 L631.1,21.05 L632.1,20.92 L633.1,20.79 L634.1,20.68 L635.1,20.57 L636.1,20.48 L637.1,20.39 L638.1,20.32 L639.1,20.24 L640.1,20.18 L641.1,20.12 L642.1,20.06 L643.1,20.01 L644.1,19.96 L645.1,19.92 L646.1,19.89 L647.1,19.85 L648.1,19.82 L649.1,19.79 L650.1,19.77 L651.1,19.74 L652.1,19.72 L653.1,19.7 L654.1,19.68 L655.1,19.67 L656.1,19.65 L657.1,19.64 L658.1,19.63 L659.1,19.62 L660.1,19.61 L661.1,19.6 L662.1,19.59 L663.1,19.58 L664.1,19.57 L665.1,19.57 L666.1,19.56 L667.1,19.56 L668.1,19.55 L669.1,19.55 L670.1,19.54 L671.1,19.54 L672.1,19.53 L673.1,19.53 L674.1,19.53 L675.1,19.53 L676.1,19.52 L677.1,19.52 L678.1,19.52 L679.1,19.52" stroke="#74b0ee"/>
<path d="M506.1,126.04 L507.1,122.28 L508.1,118.91 L509.1,115.65 L510.1,112.56 L511.1,109.8 L512.1,106.93 L513.1,104.09 L514.1,101.78 L515.1,99.53 L516.1,97.31 L517.1,95.38 L518.1,93.52 L519.1,91.68 L520.1,89.81 L521.1,88.29 L522.1,87.34 L523.1,86.3 L524.1,85.02 L525.1,83.81 L526.1,82.63 L527.1,81.67 L528.1,81.24 L529.1,80.74 L530.1,79.93 L531.1,79.33 L532.1,79.03 L533.1,79.04 L534.1,78.95 L535.1,78.57 L536.1,78.56 L537.1,78.72 L538.1,78.45 L539.1,78.04 L540.1,77.8 L541.1,77.83 L542.1,78.03 L543.1,78.08 L544.1,78.16 L545.1,78.07 L546.1,77.73 L547.1,77.65 L548.1,77.75 L549.1,77.68 L550.1,77.41 L551.1,77.23 L552.1,77.27 L553.1,76.98 L554.1,76.66 L555.1,76.83 L556.1,77.2 L557.1,77.28 L558.1,76.84 L559.1,76.68 L560.1,76.93 L561.1,76.77 L562.1,76.38 L563.1,76.13 L564.1,76.19 L565.1,76.38 L566.1,76.18 L567.1,75.89 L568.1,75.95 L569.1,76.02 L570.1,75.82 L571.1,75.7 L572.1,75.62 L573.1,75.35 L574.1,75.15 L575.1,75.23 L576.1,75.2 L577.1,74.73 L578.1,74.19 L579.1,73.92 L580.1,73.8 L581.1,73.51 L582.1,73.11 L583.1,72.56 L584.1,71.97 L585.1,71.53 L586.1,70.87 L587.1,69.95 L588.1,69.05 L589.1,68 L590.1,66.59 L591.1,65.14 L592.1,63.69 L593.1,61.9 L594.1,59.89 L595.1,57.95 L596.1,56.03 L597.1,53.97 L598.1,51.94 L599.1,49.96 L600.1,47.95 L601.1,45.98 L602.1,43.99 L603.1,42.06 L604.1,40.28 L605.1,38.65 L606.1,37.14 L607.1,35.68 L608.1,34.33 L609.1,33.11 L610.1,31.94 L611.1,30.82 L612.1,29.84 L613.1,28.98 L614.1,28.18 L615.1,27.41 L616.1,26.71 L617.1,26.07 L618.1,25.51 L619.1,24.99 L620.1,24.51 L621.1,24.06 L622.1,23.66 L623.1,23.3 L624.1,22.97 L625.1,22.66 L626.1,22.39 L627.1,22.14 L628.1,21.91 L629.1,21.69 L630.1,21.49 L631.1,21.31 L632.1,21.15 L633.1,21 L634.1,20.87 L635.1,20.76 L636.1,20.65 L637.1,20.55 L638.1,20.45 L639.1,20.36 L640.1,20.29 L641.1,20.22 L642.1,20.16 L643.1,20.1 L644.1,20.05 L645.1,20 L646.1,19.96 L647.1,19.92 L648.1,19.88 L649.1,19.85 L650.1,19.82 L651.1,19.79 L652.1,19.76 L653.1,19.74 L654.1,19.72 L655.1,19.7 L656.1,19.68 L657.1,19.67 L658.1,19.65 L659.1,19.64 L660.1,19.63 L661.1,19.61 L662.1,19.6 L663.1,19.6 L664.1,19.59 L665.1,19.58 L666.1,19.57 L667.1,19.57 L668.1,19.56 L669.1,19.56 L670.1,19.55 L671.1,19.55 L672.1,19.54 L673.1,19.54 L674.1,19.53 L675.1,19.53 L676.1,19.53 L677.1,19.53 L678.1,19.52 L679.1,19.52" stroke="#4491e7"/>
<path d="M506.1,134.57 L507.1,130.88 L508.1,127.43 L509.1,124.2 L510.1,121.14 L511.1,118.31 L512.1,115.77 L513.1,113.42 L514.1,110.84 L515.1,108.23 L516.1,106.18 L517.1,104.47 L518.1,102.6 L519.1,100.78 L520.1,99.32 L521.1,97.76 L522.1,95.97 L523.1,94.43 L524.1,93.37 L525.1,92.6 L526.1,91.7 L527.1,90.73 L528.1,90.11 L529.1,89.68 L530.1,89.09 L531.1,88.65 L532.1,88.36 L533.1,87.76 L534.1,87.63 L535.1,87.9 L536.1,87.54 L537.1,87.1 L538.1,87.04 L539.1,87.16 L540.1,87.33 L541.1,87.33 L542.1,87.14 L543.1,86.77 L544.1,86.55 L545.1,86.84 L546.1,87.15 L547.1,86.99 L548.1,86.73 L549.1,86.62 L550.1,86.44 L551.1,86.2 L552.1,86.02 L553.1,86.06 L554.1,86.14 L555.1,86.15 L556.1,86.34 L557.1,86.53 L558.1,86.29 L559.1,85.79 L560.1,85.48 L561.1,85.34 L562.1,85.3 L563.1,85.42 L564.1,85.48 L565.1,85.37 L566.1,85.24 L567.1,85.1 L568.1,84.86 L569.1,84.82 L570.1,85.04 L571.1,84.8 L572.1,84.18 L573.1,83.83 L574.1,83.74 L575.1,83.76 L576.1,83.76 L577.1,83.52 L578.1,83.14 L579.1,82.74 L580.1,82.23 L581.1,81.59 L582.1,80.82 L583.1,79.82 L584.1,78.8 L585.1,78.19 L586.1,77.42 L587.1,75.99 L588.1,74.59 L589.1,73.32 L590.1,71.65 L591.1,69.9 L592.1,68.22 L593.1,66.24 L594.1,64.01 L595.1,61.74 L596.1,59.55 L597.1,57.36 L598.1,55.15 L599.1,52.96 L600.1,50.71 L601.1,48.49 L602.1,46.34 L603.1,44.3 L604.1,42.49 L605.1,40.73 L606.1,38.97 L607.1,37.37 L608.1,35.91 L609.1,34.56 L610.1,33.34 L611.1,32.18 L612.1,31.08 L613.1,30.12 L614.1,29.26 L615.1,28.43 L616.1,27.65 L617.1,26.91 L618.1,26.25 L619.1,25.67 L620.1,25.17 L621.1,24.7 L622.1,24.25 L623.1,23.83 L624.1,23.43 L625.1,23.06 L626.1,22.74 L627.1,22.47 L628.1,22.23 L629.1,21.99 L630.1,21.76 L631.1,21.56 L632.1,21.38 L633.1,21.21 L634.1,21.06 L635.1,20.92 L636.1,20.8 L637.1,20.69 L638.1,20.58 L639.1,20.49 L640.1,20.4 L641.1,20.32 L642.1,20.25 L643.1,20.18 L644.1,20.12 L645.1,20.07 L646.1,20.02 L647.1,19.97 L648.1,19.93 L649.1,19.89 L650.1,19.86 L651.1,19.83 L652.1,19.8 L653.1,19.77 L654.1,19.75 L655.1,19.73 L656.1,19.71 L657.1,19.69 L658.1,19.67 L659.1,19.66 L660.1,19.64 L661.1,19.63 L662.1,19.62 L663.1,19.61 L664.1,19.6 L665.1,19.59 L666.1,19.58 L667.1,19.58 L668.1,19.57 L669.1,19.56 L670.1,19.56 L671.1,19.55 L672.1,19.55 L673.1,19.54 L674.1,19.54 L675.1,19.54 L676.1,19.53 L677.1,19.53 L678.1,19.53 L679.1,19.52" stroke="#2476db"/>
<path d="M506.1,143.89 L507.1,140.12 L508.1,136.61 L509.1,132.98 L510.1,129.62 L511.1,126.55 L512.1,123.76 L513.1,121.22 L514.1,118.69 L515.1,116.49 L516.1,114.22 L517.1,111.78 L518.1,109.79 L519.1,107.92 L520.1,106.13 L521.1,104.71 L522.1,103.53 L523.1,102.52 L524.1,101.31 L525.1,99.92 L526.1,99.03 L527.1,98.6 L528.1,97.75 L529.1,96.83 L530.1,96.6 L531.1,96.48 L532.1,96.15 L533.1,95.6 L534.1,95.19 L535.1,95.33 L536.1,95.47 L537.1,94.99 L538.1,94.6 L539.1,94.69 L540.1,94.52 L541.1,94.31 L542.1,94.2 L543.1,94.02 L544.1,94.04 L545.1,94.14 L546.1,94.25 L547.1,94.31 L548.1,94.11 L549.1,93.89 L550.1,94.12 L551.1,94.45 L552.1,94.41 L553.1,94.2 L554.1,94.16 L555.1,94.25 L556.1,94.35 L557.1,94.16 L558.1,93.65 L559.1,93.54 L560.1,93.85 L561.1,93.96 L562.1,93.42 L563.1,92.66 L564.1,92.23 L565.1,92.1 L566.1,92.43 L567.1,92.57 L568.1,92.29 L569.1,92.21 L570.1,92.12 L571.1,91.82 L572.1,91.62 L573.1,91.33 L574.1,90.9 L575.1,90.48 L576.1,89.85 L577.1,89.25 L578.1,88.96 L579.1,88.43 L580.1,87.63 L581.1,86.95 L582.1,85.95 L583.1,84.64 L584.1,83.5 L585.1,82.28 L586.1,80.92 L587.1,79.51 L588.1,77.82 L589.1,76.09 L590.1,74.38 L591.1,72.45 L592.1,70.49 L593.1,68.36 L594.1,65.87 L595.1,63.36 L596.1,60.98 L597.1,58.79 L598.1,56.62 L599.1,54.23 L600.1,51.78 L601.1,49.6 L602.1,47.58 L603.1,45.54 L604.1,43.55 L605.1,41.71 L606.1,40.06 L607.1,38.47 L608.1,36.87 L609.1,35.4 L610.1,34.1 L611.1,32.92 L612.1,31.8 L613.1,30.75 L614.1,29.79 L615.1,28.94 L616.1,28.13 L617.1,27.32 L618.1,26.62 L619.1,26.02 L620.1,25.46 L621.1,24.95 L622.1,24.5 L623.1,24.07 L624.1,23.66 L625.1,23.29 L626.1,22.97 L627.1,22.67 L628.1,22.39 L629.1,22.13 L630.1,21.9 L631.1,21.69 L632.1,21.49 L633.1,21.31 L634.1,21.15 L635.1,21.01 L636.1,20.88 L637.1,20.76 L638.1,20.65 L639.1,20.55 L640.1,20.46 L641.1,20.38 L642.1,20.3 L643.1,20.23 L644.1,20.17 L645.1,20.11 L646.1,20.05 L647.1,20 L648.1,19.96 L649.1,19.92 L650.1,19.88 L651.1,19.85 L652.1,19.82 L653.1,19.79 L654.1,19.76 L655.1,19.74 L656.1,19.72 L657.1,19.7 L658.1,19.68 L659.1,19.67 L660.1,19.65 L661.1,19.64 L662.1,19.63 L663.1,19.61 L664.1,19.6 L665.1,19.6 L666.1,19.59 L667.1,19.58 L668.1,19.57 L669.1,19.57 L670.1,19.56 L671.1,19.56 L672.1,19.55 L673.1,19.55 L674.1,19.54 L675.1,19.54 L676.1,19.53 L677.1,19.53 L678.1,19.53 L679.1,19.53" stroke="#1c5cb9"/>
</g>
<rect x="505.8" y="14.4" width="173.5" height="135.4" fill="none" stroke="#1b1b1b" stroke-width="1.1"/>
<line x1="505.8" y1="18.8" x2="502.8" y2="18.8" stroke="#1b1b1b" stroke-width="1.0" />
<line x1="505.8" y1="54.94" x2="502.8" y2="54.94" stroke="#1b1b1b" stroke-width="1.0" />
<line x1="505.8" y1="91.07" x2="502.8" y2="91.07" stroke="#1b1b1b" stroke-width="1.0" />
<line x1="505.8" y1="127.21" x2="502.8" y2="127.21" stroke="#1b1b1b" stroke-width="1.0" />
<line x1="505.8" y1="36.87" x2="503.8" y2="36.87" stroke="#1b1b1b" stroke-width="1.0" />
<line x1="505.8" y1="73" x2="503.8" y2="73" stroke="#1b1b1b" stroke-width="1.0" />
<line x1="505.8" y1="109.14" x2="503.8" y2="109.14" stroke="#1b1b1b" stroke-width="1.0" />
<line x1="505.8" y1="145.28" x2="503.8" y2="145.28" stroke="#1b1b1b" stroke-width="1.0" />
<line x1="512.74" y1="149.8" x2="512.74" y2="152.3" stroke="#1b1b1b" stroke-width="1.0" />
<line x1="540.5" y1="149.8" x2="540.5" y2="152.3" stroke="#1b1b1b" stroke-width="1.0" />
<line x1="568.26" y1="149.8" x2="568.26" y2="152.3" stroke="#1b1b1b" stroke-width="1.0" />
<line x1="596.02" y1="149.8" x2="596.02" y2="152.3" stroke="#1b1b1b" stroke-width="1.0" />
<line x1="623.78" y1="149.8" x2="623.78" y2="152.3" stroke="#1b1b1b" stroke-width="1.0" />
<line x1="651.54" y1="149.8" x2="651.54" y2="152.3" stroke="#1b1b1b" stroke-width="1.0" />
<line x1="679.3" y1="149.8" x2="679.3" y2="152.3" stroke="#1b1b1b" stroke-width="1.0" />
<line x1="526.62" y1="149.8" x2="526.62" y2="151.5" stroke="#1b1b1b" stroke-width="1.0" />
<line x1="554.38" y1="149.8" x2="554.38" y2="151.5" stroke="#1b1b1b" stroke-width="1.0" />
<line x1="582.14" y1="149.8" x2="582.14" y2="151.5" stroke="#1b1b1b" stroke-width="1.0" />
<line x1="609.9" y1="149.8" x2="609.9" y2="151.5" stroke="#1b1b1b" stroke-width="1.0" />
<line x1="637.66" y1="149.8" x2="637.66" y2="151.5" stroke="#1b1b1b" stroke-width="1.0" />
<line x1="665.42" y1="149.8" x2="665.42" y2="151.5" stroke="#1b1b1b" stroke-width="1.0" />
<text x="500.6" y="21.1" font-size="8" text-anchor="end" font-weight="bold" fill="#1b1b1b" color="#1b1b1b" >0</text>
<text x="500.6" y="57.24" font-size="8" text-anchor="end" font-weight="bold" fill="#1b1b1b" color="#1b1b1b" >-80</text>
<text x="500.6" y="93.37" font-size="8" text-anchor="end" font-weight="bold" fill="#1b1b1b" color="#1b1b1b" >-160</text>
<text x="500.6" y="129.51" font-size="8" text-anchor="end" font-weight="bold" fill="#1b1b1b" color="#1b1b1b" >-240</text>
<text x="512.74" y="159.9" font-size="8" text-anchor="middle" font-weight="bold" fill="#1b1b1b" color="#1b1b1b" >-1.2</text>
<text x="540.5" y="159.9" font-size="8" text-anchor="middle" font-weight="bold" fill="#1b1b1b" color="#1b1b1b" >-1.0</text>
<text x="568.26" y="159.9" font-size="8" text-anchor="middle" font-weight="bold" fill="#1b1b1b" color="#1b1b1b" >-0.8</text>
<text x="596.02" y="159.9" font-size="8" text-anchor="middle" font-weight="bold" fill="#1b1b1b" color="#1b1b1b" >-0.6</text>
<text x="623.78" y="159.9" font-size="8" text-anchor="middle" font-weight="bold" fill="#1b1b1b" color="#1b1b1b" >-0.4</text>
<text x="651.54" y="159.9" font-size="8" text-anchor="middle" font-weight="bold" fill="#1b1b1b" color="#1b1b1b" >-0.2</text>
<text x="679.3" y="159.9" font-size="8" text-anchor="middle" font-weight="bold" fill="#1b1b1b" color="#1b1b1b" >0.0</text>
<text x="592.5" y="171.1" font-size="10.3" text-anchor="middle" font-weight="bold" fill="#1b1b1b" color="#1b1b1b" >E-<tspan font-style="italic">iR</tspan> (V vs. RHE)</text>
<text x="476.9" y="80" font-size="10.3" text-anchor="middle" font-weight="bold" fill="#1b1b1b" color="#1b1b1b" transform="rotate(-90 476.9 80)" >Current density (mA cm<tspan font-size="6.7" dy="-4.6">-2</tspan><tspan dy="4.6">)</tspan></text>
<text x="488.6" y="11.9" font-size="14.5" text-anchor="start" font-weight="bold" fill="#1b1b1b" color="#1b1b1b" >c</text>
<text x="508.2" y="24.5" font-size="8.3" text-anchor="start" font-weight="bold" fill="#1b1b1b" color="#1b1b1b" >Pd/CNT in CO<tspan font-size="7.06" dy="2.6">2</tspan></text>
<text x="647.2" y="74.8" font-size="8.3" text-anchor="start" font-weight="bold" fill="#1b1b1b" color="#1b1b1b" >In rpm</text>
<line x1="641.1" y1="82.5" x2="655.6" y2="82.5" stroke="#d5e9fb" stroke-width="1.3"/>
<text x="658.1" y="85" font-size="8.3" text-anchor="start" font-weight="bold" fill="#1b1b1b" color="#1b1b1b" >0</text>
<line x1="641.1" y1="92.6" x2="655.6" y2="92.6" stroke="#b9daf7" stroke-width="1.3"/>
<text x="658.1" y="95.1" font-size="8.3" text-anchor="start" font-weight="bold" fill="#1b1b1b" color="#1b1b1b" >400</text>
<line x1="641.1" y1="102.7" x2="655.6" y2="102.7" stroke="#9ccaf3" stroke-width="1.3"/>
<text x="658.1" y="105.2" font-size="8.3" text-anchor="start" font-weight="bold" fill="#1b1b1b" color="#1b1b1b" >800</text>
<line x1="641.1" y1="112.8" x2="655.6" y2="112.8" stroke="#74b0ee" stroke-width="1.3"/>
<text x="658.1" y="115.3" font-size="8.3" text-anchor="start" font-weight="bold" fill="#1b1b1b" color="#1b1b1b" >1200</text>
<line x1="641.1" y1="122.9" x2="655.6" y2="122.9" stroke="#4491e7" stroke-width="1.3"/>
<text x="658.1" y="125.4" font-size="8.3" text-anchor="start" font-weight="bold" fill="#1b1b1b" color="#1b1b1b" >1600</text>
<line x1="641.1" y1="133" x2="655.6" y2="133" stroke="#2476db" stroke-width="1.3"/>
<text x="658.1" y="135.5" font-size="8.3" text-anchor="start" font-weight="bold" fill="#1b1b1b" color="#1b1b1b" >2000</text>
<line x1="641.1" y1="143.1" x2="655.6" y2="143.1" stroke="#1c5cb9" stroke-width="1.3"/>
<text x="658.1" y="145.6" font-size="8.3" text-anchor="start" font-weight="bold" fill="#1b1b1b" color="#1b1b1b" >2400</text>
<defs><linearGradient id="bar" x1="0" y1="0" x2="0" y2="1"><stop offset="0" stop-color="#c5dcfa"/><stop offset="0.5" stop-color="#b9ebfb"/><stop offset="1" stop-color="#a9fbfd"/></linearGradient><marker id="ahb" viewBox="0 0 10 10" refX="8" refY="5" markerWidth="4.6" markerHeight="4.6" orient="auto-start-reverse"><path d="M0,0 L10,5 L0,10 z" fill="#5aa2e8"/></marker><marker id="ahp" viewBox="0 0 10 10" refX="8" refY="5" markerWidth="4.6" markerHeight="4.6" orient="auto-start-reverse"><path d="M0,0 L10,5 L0,10 z" fill="#7774c4"/></marker></defs>
<rect x="43.25" y="210.08" width="21.5" height="115.02" fill="url(#bar)"/>
<path d="M54,208.73 V211.43 M52.7,208.73 H55.3 M52.7,211.43 H55.3" stroke="#8ec4f0" stroke-width="0.8" fill="none"/>
<rect x="79.45" y="202.25" width="21.5" height="122.85" fill="url(#bar)"/>
<path d="M90.2,199.96 V204.55 M88.9,199.96 H91.5 M88.9,204.55 H91.5" stroke="#8ec4f0" stroke-width="0.8" fill="none"/>
<rect x="115.65" y="196.31" width="21.5" height="128.79" fill="url(#bar)"/>
<path d="M126.4,194.28 V198.34 M125.1,194.28 H127.7 M125.1,198.34 H127.7" stroke="#8ec4f0" stroke-width="0.8" fill="none"/>
<rect x="151.85" y="202.12" width="21.5" height="122.99" fill="url(#bar)"/>
<path d="M162.6,199.96 V204.28 M161.3,199.96 H163.9 M161.3,204.28 H163.9" stroke="#8ec4f0" stroke-width="0.8" fill="none"/>
<rect x="188.05" y="209.27" width="21.5" height="115.83" fill="url(#bar)"/>
<path d="M198.8,207.52 V211.03 M197.5,207.52 H200.1 M197.5,211.03 H200.1" stroke="#8ec4f0" stroke-width="0.8" fill="none"/>
<path d="M54,238.97 L90.2,237.89 L126.4,237.89 L162.6,245.72 L198.8,253.01" stroke="#7470c0" stroke-width="1.1" fill="none"/>
<path d="M54,236.67 L51.8,240.47 L56.2,240.47 z" fill="#7470c0"/>
<path d="M90.2,235.59 L88,239.39 L92.4,239.39 z" fill="#7470c0"/>
<path d="M126.4,235.59 L124.2,239.39 L128.6,239.39 z" fill="#7470c0"/>
<path d="M162.6,243.42 L160.4,247.22 L164.8,247.22 z" fill="#7470c0"/>
<path d="M198.8,250.71 L196.6,254.51 L201,254.51 z" fill="#7470c0"/>
<line x1="49.4" y1="205.4" x2="38.8" y2="201.0" stroke="#5aa2e8" stroke-width="1.2" marker-end="url(#ahb)"/>
<line x1="202.3" y1="251.8" x2="215.6" y2="246.7" stroke="#6e6fc2" stroke-width="1.2" marker-end="url(#ahp)"/>
<line x1="35.9" y1="190.1" x2="217.2" y2="190.1" stroke="#1b1b1b" stroke-width="1.1" />
<line x1="35.9" y1="190.1" x2="35.9" y2="325.1" stroke="#1b1b1b" stroke-width="1.1" />
<line x1="35.9" y1="325.1" x2="217.2" y2="325.1" stroke="#1b1b1b" stroke-width="1.1" />
<line x1="217.2" y1="190.1" x2="217.2" y2="325.1" stroke="#6e6fc2" stroke-width="1.1" />
<line x1="35.9" y1="325.1" x2="32.9" y2="325.1" stroke="#1b1b1b" stroke-width="1.0" />
<line x1="35.9" y1="291.35" x2="32.9" y2="291.35" stroke="#1b1b1b" stroke-width="1.0" />
<line x1="35.9" y1="257.6" x2="32.9" y2="257.6" stroke="#1b1b1b" stroke-width="1.0" />
<line x1="35.9" y1="223.85" x2="32.9" y2="223.85" stroke="#1b1b1b" stroke-width="1.0" />
<line x1="35.9" y1="190.1" x2="32.9" y2="190.1" stroke="#1b1b1b" stroke-width="1.0" />
<line x1="35.9" y1="308.23" x2="33.9" y2="308.23" stroke="#1b1b1b" stroke-width="1.0" />
<line x1="35.9" y1="274.48" x2="33.9" y2="274.48" stroke="#1b1b1b" stroke-width="1.0" />
<line x1="35.9" y1="240.73" x2="33.9" y2="240.73" stroke="#1b1b1b" stroke-width="1.0" />
<line x1="35.9" y1="206.98" x2="33.9" y2="206.98" stroke="#1b1b1b" stroke-width="1.0" />
<line x1="217.2" y1="325.1" x2="220.2" y2="325.1" stroke="#6e6fc2" stroke-width="1.0" />
<line x1="217.2" y1="298.1" x2="220.2" y2="298.1" stroke="#6e6fc2" stroke-width="1.0" />
<line x1="217.2" y1="271.1" x2="220.2" y2="271.1" stroke="#6e6fc2" stroke-width="1.0" />
<line x1="217.2" y1="244.1" x2="220.2" y2="244.1" stroke="#6e6fc2" stroke-width="1.0" />
<line x1="217.2" y1="217.1" x2="220.2" y2="217.1" stroke="#6e6fc2" stroke-width="1.0" />
<line x1="217.2" y1="190.1" x2="220.2" y2="190.1" stroke="#6e6fc2" stroke-width="1.0" />
<line x1="217.2" y1="311.6" x2="219.2" y2="311.6" stroke="#6e6fc2" stroke-width="1.0" />
<line x1="217.2" y1="284.6" x2="219.2" y2="284.6" stroke="#6e6fc2" stroke-width="1.0" />
<line x1="217.2" y1="257.6" x2="219.2" y2="257.6" stroke="#6e6fc2" stroke-width="1.0" />
<line x1="217.2" y1="230.6" x2="219.2" y2="230.6" stroke="#6e6fc2" stroke-width="1.0" />
<line x1="217.2" y1="203.6" x2="219.2" y2="203.6" stroke="#6e6fc2" stroke-width="1.0" />
<line x1="54" y1="325.1" x2="54" y2="327.6" stroke="#1b1b1b" stroke-width="1.0" />
<line x1="90.2" y1="325.1" x2="90.2" y2="327.6" stroke="#1b1b1b" stroke-width="1.0" />
<line x1="126.4" y1="325.1" x2="126.4" y2="327.6" stroke="#1b1b1b" stroke-width="1.0" />
<line x1="162.6" y1="325.1" x2="162.6" y2="327.6" stroke="#1b1b1b" stroke-width="1.0" />
<line x1="198.8" y1="325.1" x2="198.8" y2="327.6" stroke="#1b1b1b" stroke-width="1.0" />
<line x1="36" y1="325.1" x2="36" y2="326.8" stroke="#1b1b1b" stroke-width="1.0" />
<line x1="72.1" y1="325.1" x2="72.1" y2="326.8" stroke="#1b1b1b" stroke-width="1.0" />
<line x1="108.3" y1="325.1" x2="108.3" y2="326.8" stroke="#1b1b1b" stroke-width="1.0" />
<line x1="144.5" y1="325.1" x2="144.5" y2="326.8" stroke="#1b1b1b" stroke-width="1.0" />
<line x1="180.7" y1="325.1" x2="180.7" y2="326.8" stroke="#1b1b1b" stroke-width="1.0" />
<line x1="216.9" y1="325.1" x2="216.9" y2="326.8" stroke="#1b1b1b" stroke-width="1.0" />
<text x="30.6" y="327.4" font-size="8" text-anchor="end" font-weight="bold" fill="#1b1b1b" color="#1b1b1b" >0</text>
<text x="30.6" y="293.65" font-size="8" text-anchor="end" font-weight="bold" fill="#1b1b1b" color="#1b1b1b" >25</text>
<text x="30.6" y="259.9" font-size="8" text-anchor="end" font-weight="bold" fill="#1b1b1b" color="#1b1b1b" >50</text>
<text x="30.6" y="226.15" font-size="8" text-anchor="end" font-weight="bold" fill="#1b1b1b" color="#1b1b1b" >75</text>
<text x="30.6" y="192.4" font-size="8" text-anchor="end" font-weight="bold" fill="#1b1b1b" color="#1b1b1b" >100</text>
<text x="221.6" y="327.5" font-size="8" text-anchor="start" font-weight="normal" fill="#7475c6" color="#7475c6" style="stroke-width:0.2px">0</text>
<text x="221.6" y="300.5" font-size="8" text-anchor="start" font-weight="normal" fill="#7475c6" color="#7475c6" style="stroke-width:0.2px">20</text>
<text x="221.6" y="273.5" font-size="8" text-anchor="start" font-weight="normal" fill="#7475c6" color="#7475c6" style="stroke-width:0.2px">40</text>
<text x="221.6" y="246.5" font-size="8" text-anchor="start" font-weight="normal" fill="#7475c6" color="#7475c6" style="stroke-width:0.2px">60</text>
<text x="221.6" y="219.5" font-size="8" text-anchor="start" font-weight="normal" fill="#7475c6" color="#7475c6" style="stroke-width:0.2px">80</text>
<text x="221.6" y="192.5" font-size="8" text-anchor="start" font-weight="normal" fill="#7475c6" color="#7475c6" style="stroke-width:0.2px">100</text>
<text x="54.4" y="336.5" font-size="8" text-anchor="middle" font-weight="bold" fill="#1b1b1b" color="#1b1b1b" >-0.7</text>
<text x="90.6" y="336.5" font-size="8" text-anchor="middle" font-weight="bold" fill="#1b1b1b" color="#1b1b1b" >-0.8</text>
<text x="126.8" y="336.5" font-size="8" text-anchor="middle" font-weight="bold" fill="#1b1b1b" color="#1b1b1b" >-0.9</text>
<text x="163" y="336.5" font-size="8" text-anchor="middle" font-weight="bold" fill="#1b1b1b" color="#1b1b1b" >-1.0</text>
<text x="199.2" y="336.5" font-size="8" text-anchor="middle" font-weight="bold" fill="#1b1b1b" color="#1b1b1b" >-1.1</text>
<text x="126.3" y="350.2" font-size="10" text-anchor="middle" font-weight="bold" fill="#1b1b1b" color="#1b1b1b" >Potential (V vs. RHE)</text>
<text x="12.8" y="257.6" font-size="10" text-anchor="middle" font-weight="bold" fill="#1b1b1b" color="#1b1b1b" transform="rotate(-90 12.8 257.6)" >FE<tspan font-size="6.3" dy="4.2">HCOOH</tspan><tspan dy="-4.2"> (%)</tspan></text>
<text x="244.3" y="254.6" font-size="10" text-anchor="middle" font-weight="bold" fill="#7f7fcd" color="#7f7fcd" transform="rotate(-90 244.3 254.6)" style="stroke-width:0.15px">CEE<tspan font-size="6.3" dy="4.2">HCOOH</tspan><tspan dy="-4.2"> (%)</tspan></text>
<text x="6" y="187.9" font-size="15" text-anchor="start" font-weight="bold" fill="#1b1b1b" color="#1b1b1b" >d</text>
<line x1="332" y1="249.4" x2="356.7" y2="229.7" stroke="#dd9fce" stroke-width="1.2"/>
<line x1="356.2" y1="291.9" x2="390.8" y2="272.5" stroke="#7478cc" stroke-width="1.2"/>
<text x="361.3" y="246.8" font-size="7.2" text-anchor="start" font-weight="bold" fill="#de9fd0" color="#de9fd0" class="an">757.9 mV dec<tspan font-size="5.8" dy="-3.8">-1</tspan></text>
<text x="380.6" y="296" font-size="7.2" text-anchor="start" font-weight="bold" fill="#7a7ecc" color="#7a7ecc" class="an">535.3 mV dec<tspan font-size="5.8" dy="-3.8">-1</tspan></text>
<rect x="284.9" y="190" width="178.7" height="135.1" fill="none" stroke="#1b1b1b" stroke-width="1.1"/>
<line x1="284.9" y1="325.1" x2="281.9" y2="325.1" stroke="#1b1b1b" stroke-width="1.0" />
<line x1="284.9" y1="291.33" x2="281.9" y2="291.33" stroke="#1b1b1b" stroke-width="1.0" />
<line x1="284.9" y1="257.55" x2="281.9" y2="257.55" stroke="#1b1b1b" stroke-width="1.0" />
<line x1="284.9" y1="223.78" x2="281.9" y2="223.78" stroke="#1b1b1b" stroke-width="1.0" />
<line x1="284.9" y1="190" x2="281.9" y2="190" stroke="#1b1b1b" stroke-width="1.0" />
<line x1="284.9" y1="308.21" x2="282.9" y2="308.21" stroke="#1b1b1b" stroke-width="1.0" />
<line x1="284.9" y1="274.44" x2="282.9" y2="274.44" stroke="#1b1b1b" stroke-width="1.0" />
<line x1="284.9" y1="240.66" x2="282.9" y2="240.66" stroke="#1b1b1b" stroke-width="1.0" />
<line x1="284.9" y1="206.89" x2="282.9" y2="206.89" stroke="#1b1b1b" stroke-width="1.0" />
<line x1="310.43" y1="325.1" x2="310.43" y2="327.6" stroke="#1b1b1b" stroke-width="1.0" />
<line x1="361.48" y1="325.1" x2="361.48" y2="327.6" stroke="#1b1b1b" stroke-width="1.0" />
<line x1="412.54" y1="325.1" x2="412.54" y2="327.6" stroke="#1b1b1b" stroke-width="1.0" />
<line x1="463.6" y1="325.1" x2="463.6" y2="327.6" stroke="#1b1b1b" stroke-width="1.0" />
<line x1="335.96" y1="325.1" x2="335.96" y2="326.8" stroke="#1b1b1b" stroke-width="1.0" />
<line x1="387.01" y1="325.1" x2="387.01" y2="326.8" stroke="#1b1b1b" stroke-width="1.0" />
<line x1="438.07" y1="325.1" x2="438.07" y2="326.8" stroke="#1b1b1b" stroke-width="1.0" />
<text x="280.4" y="327.4" font-size="8" text-anchor="end" font-weight="bold" fill="#1b1b1b" color="#1b1b1b" >0.0</text>
<text x="280.4" y="293.63" font-size="8" text-anchor="end" font-weight="bold" fill="#1b1b1b" color="#1b1b1b" >0.5</text>
<text x="280.4" y="259.85" font-size="8" text-anchor="end" font-weight="bold" fill="#1b1b1b" color="#1b1b1b" >1.0</text>
<text x="280.4" y="226.08" font-size="8" text-anchor="end" font-weight="bold" fill="#1b1b1b" color="#1b1b1b" >1.5</text>
<text x="280.4" y="192.3" font-size="8" text-anchor="end" font-weight="bold" fill="#1b1b1b" color="#1b1b1b" >2.0</text>
<text x="310.43" y="335.6" font-size="8" text-anchor="middle" font-weight="bold" fill="#1b1b1b" color="#1b1b1b" >0.8</text>
<text x="361.48" y="335.6" font-size="8" text-anchor="middle" font-weight="bold" fill="#1b1b1b" color="#1b1b1b" >1.6</text>
<text x="412.54" y="335.6" font-size="8" text-anchor="middle" font-weight="bold" fill="#1b1b1b" color="#1b1b1b" >2.4</text>
<text x="463.6" y="335.6" font-size="8" text-anchor="middle" font-weight="bold" fill="#1b1b1b" color="#1b1b1b" >3.2</text>
<line x1="287.5" y1="198.8" x2="301.5" y2="198.8" stroke="#9498da" stroke-width="1.3"/>
<line x1="287.5" y1="211.8" x2="301.5" y2="211.8" stroke="#e8b4da" stroke-width="1.3"/>
<text x="303.6" y="201.1" font-size="7.8" text-anchor="start" font-weight="bold" fill="#1b1b1b" color="#1b1b1b" >PdC<tspan font-size="6.63" dy="2.6">0.13</tspan><tspan dy="-2.6">/CNT</tspan></text>
<text x="303.6" y="214.1" font-size="7.8" text-anchor="start" font-weight="bold" fill="#1b1b1b" color="#1b1b1b" >Pd/CNT</text>
<text x="259.3" y="259" font-size="10.2" text-anchor="middle" font-weight="bold" fill="#1b1b1b" color="#1b1b1b" transform="rotate(-90 259.3 259)" >Overpotential (V)</text>
<text x="374.5" y="349.2" font-size="10" text-anchor="middle" font-weight="bold" fill="#1b1b1b" color="#1b1b1b" >Log (|j<tspan font-size="6" dy="3.6">HCOOH</tspan><tspan dy="-3.6">|/ mA cm</tspan><tspan font-size="6.5" dy="-4.4">-2</tspan><tspan dy="4.4">)</tspan></text>
<text x="250.5" y="187.5" font-size="14.5" text-anchor="start" font-weight="bold" fill="#1b1b1b" color="#1b1b1b" >e</text>
<path d="M503.4,300.2C504.72,300.13 508.1,300.43 511.3,299.8C514.5,299.17 518.83,297.83 522.6,296.4C526.37,294.97 530.13,292.6 533.9,291.2C537.67,289.8 541.42,288.83 545.2,288C548.98,287.17 553.63,286.65 556.6,286.2C559.57,285.75 561.12,285.58 563,285.3C564.88,285.02 566.4,284.55 567.9,284.5C569.4,284.45 570.5,284.72 572,285C573.5,285.28 575.23,285.8 576.9,286.2C578.57,286.6 580.48,287.13 582,287.4C583.52,287.67 584.67,287.87 586,287.8C587.33,287.73 588.5,287.38 590,287C591.5,286.62 593.33,286 595,285.5C596.67,285 598.28,284.77 600,284C601.72,283.23 602.88,282.13 605.3,280.9C607.72,279.67 611.1,277.8 614.5,276.6C617.9,275.4 621.87,274.72 625.7,273.7C629.53,272.68 632.98,271.37 637.5,270.5C642.02,269.63 647.43,269.07 652.8,268.5C658.17,267.93 664.45,267.38 669.7,267.1C674.95,266.82 681.87,266.85 684.3,266.8" stroke="#dc92cf" stroke-width="1.3" fill="none"/>
<path d="M503.4,287.3C505.1,287.42 510.02,287.8 513.6,288C517.18,288.2 521.13,288.62 524.9,288.5C528.67,288.38 532.82,288.07 536.2,287.3C539.58,286.53 542.18,285.4 545.2,283.9C548.22,282.4 551.65,280.18 554.3,278.3C556.95,276.42 559.23,274.4 561.1,272.6C562.97,270.8 564.27,269.18 565.5,267.5C566.73,265.82 567.53,264.47 568.5,262.5C569.47,260.53 570.48,258.03 571.3,255.7C572.12,253.37 572.63,250.73 573.4,248.5C574.17,246.27 575.07,243.72 575.9,242.3C576.73,240.88 577.42,239.98 578.4,240C579.38,240.02 580.53,241.33 581.8,242.4C583.07,243.47 584.62,245.97 586,246.4C587.38,246.83 588.57,246.02 590.1,245C591.63,243.98 593.52,242.03 595.2,240.3C596.88,238.57 598.67,236.08 600.2,234.6C601.73,233.12 602.72,232.13 604.4,231.4C606.08,230.67 608.62,230.52 610.3,230.2C611.98,229.88 612.82,230.13 614.5,229.5C616.18,228.87 618.58,227.38 620.4,226.4C622.22,225.42 623.87,224.57 625.4,223.6C626.93,222.63 628.07,222.1 629.6,220.6C631.13,219.1 633.12,216.23 634.6,214.6C636.08,212.97 637.47,211.57 638.5,210.8C639.53,210.03 639.77,210.02 640.8,210C641.83,209.98 642.78,210.13 644.7,210.7C646.62,211.27 649.92,212.58 652.3,213.4C654.68,214.22 656.77,214.33 659,215.6C661.23,216.87 663.18,218.98 665.7,221C668.22,223.02 671,225.3 674.1,227.7C677.2,230.1 682.6,234.12 684.3,235.4" stroke="#958dc0" stroke-width="1.45" fill="none"/>
<line x1="578.4" y1="216.0" x2="578.4" y2="260.0" stroke="#aea7d6" stroke-width="1.15" stroke-dasharray="3.3 3.1"/>
<line x1="641.0" y1="199.9" x2="641.0" y2="243.3" stroke="#aea7d6" stroke-width="1.15" stroke-dasharray="3.3 3.1"/>
<line x1="568.3" y1="265.8" x2="568.3" y2="310.0" stroke="#e2a6d6" stroke-width="1.15" stroke-dasharray="3.3 3.1"/>
<line x1="614.5" y1="250.2" x2="614.5" y2="293.2" stroke="#e2a6d6" stroke-width="1.15" stroke-dasharray="3.3 3.1"/>
<text x="582" y="218.3" font-size="7.3" text-anchor="start" font-weight="bold" fill="#9d95cc" color="#9d95cc" class="an">457 °C</text>
<text x="645.9" y="201.4" font-size="7.3" text-anchor="start" font-weight="bold" fill="#9d95cc" color="#9d95cc" class="an">630 °C</text>
<text x="572.9" y="304.3" font-size="7.3" text-anchor="start" font-weight="bold" fill="#dc9bd0" color="#dc9bd0" class="an">430 °C</text>
<text x="619.9" y="292.3" font-size="7.3" text-anchor="start" font-weight="bold" fill="#dc9bd0" color="#dc9bd0" class="an">558 °C</text>
<rect x="503.2" y="190.4" width="181.3" height="134.7" fill="none" stroke="#1b1b1b" stroke-width="1.1"/>
<line x1="521.35" y1="325.1" x2="521.35" y2="327.6" stroke="#1b1b1b" stroke-width="1.0" />
<line x1="557.65" y1="325.1" x2="557.65" y2="327.6" stroke="#1b1b1b" stroke-width="1.0" />
<line x1="593.95" y1="325.1" x2="593.95" y2="327.6" stroke="#1b1b1b" stroke-width="1.0" />
<line x1="630.25" y1="325.1" x2="630.25" y2="327.6" stroke="#1b1b1b" stroke-width="1.0" />
<line x1="666.55" y1="325.1" x2="666.55" y2="327.6" stroke="#1b1b1b" stroke-width="1.0" />
<line x1="539.5" y1="325.1" x2="539.5" y2="326.8" stroke="#1b1b1b" stroke-width="1.0" />
<line x1="575.8" y1="325.1" x2="575.8" y2="326.8" stroke="#1b1b1b" stroke-width="1.0" />
<line x1="612.1" y1="325.1" x2="612.1" y2="326.8" stroke="#1b1b1b" stroke-width="1.0" />
<line x1="648.4" y1="325.1" x2="648.4" y2="326.8" stroke="#1b1b1b" stroke-width="1.0" />
<text x="521.35" y="337" font-size="8" text-anchor="middle" font-weight="bold" fill="#1b1b1b" color="#1b1b1b" >300</text>
<text x="557.65" y="337" font-size="8" text-anchor="middle" font-weight="bold" fill="#1b1b1b" color="#1b1b1b" >400</text>
<text x="593.95" y="337" font-size="8" text-anchor="middle" font-weight="bold" fill="#1b1b1b" color="#1b1b1b" >500</text>
<text x="630.25" y="337" font-size="8" text-anchor="middle" font-weight="bold" fill="#1b1b1b" color="#1b1b1b" >600</text>
<text x="666.55" y="337" font-size="8" text-anchor="middle" font-weight="bold" fill="#1b1b1b" color="#1b1b1b" >700</text>
<line x1="506.5" y1="198.4" x2="520.5" y2="198.4" stroke="#9891cb" stroke-width="1.3"/>
<line x1="506.5" y1="211.3" x2="520.5" y2="211.3" stroke="#e0a6d6" stroke-width="1.3"/>
<text x="522.6" y="200.7" font-size="7.8" text-anchor="start" font-weight="bold" fill="#1b1b1b" color="#1b1b1b" >PdC<tspan font-size="6.63" dy="2.6">0.13</tspan><tspan dy="-2.6">/CNT</tspan></text>
<text x="522.6" y="213.6" font-size="7.8" text-anchor="start" font-weight="bold" fill="#1b1b1b" color="#1b1b1b" >Pd/CNT</text>
<text x="495.6" y="257.7" font-size="10.8" text-anchor="middle" font-weight="bold" fill="#1b1b1b" color="#1b1b1b" transform="rotate(-90 495.6 257.7)" >Intensity (a.u.)</text>
<text x="594" y="349.6" font-size="10.15" text-anchor="middle" font-weight="bold" fill="#1b1b1b" color="#1b1b1b" >Temperature (°C)</text>
<text x="487.3" y="187.7" font-size="15" text-anchor="start" font-weight="bold" fill="#1b1b1b" color="#1b1b1b" >f</text>
</svg>
</body></html>
